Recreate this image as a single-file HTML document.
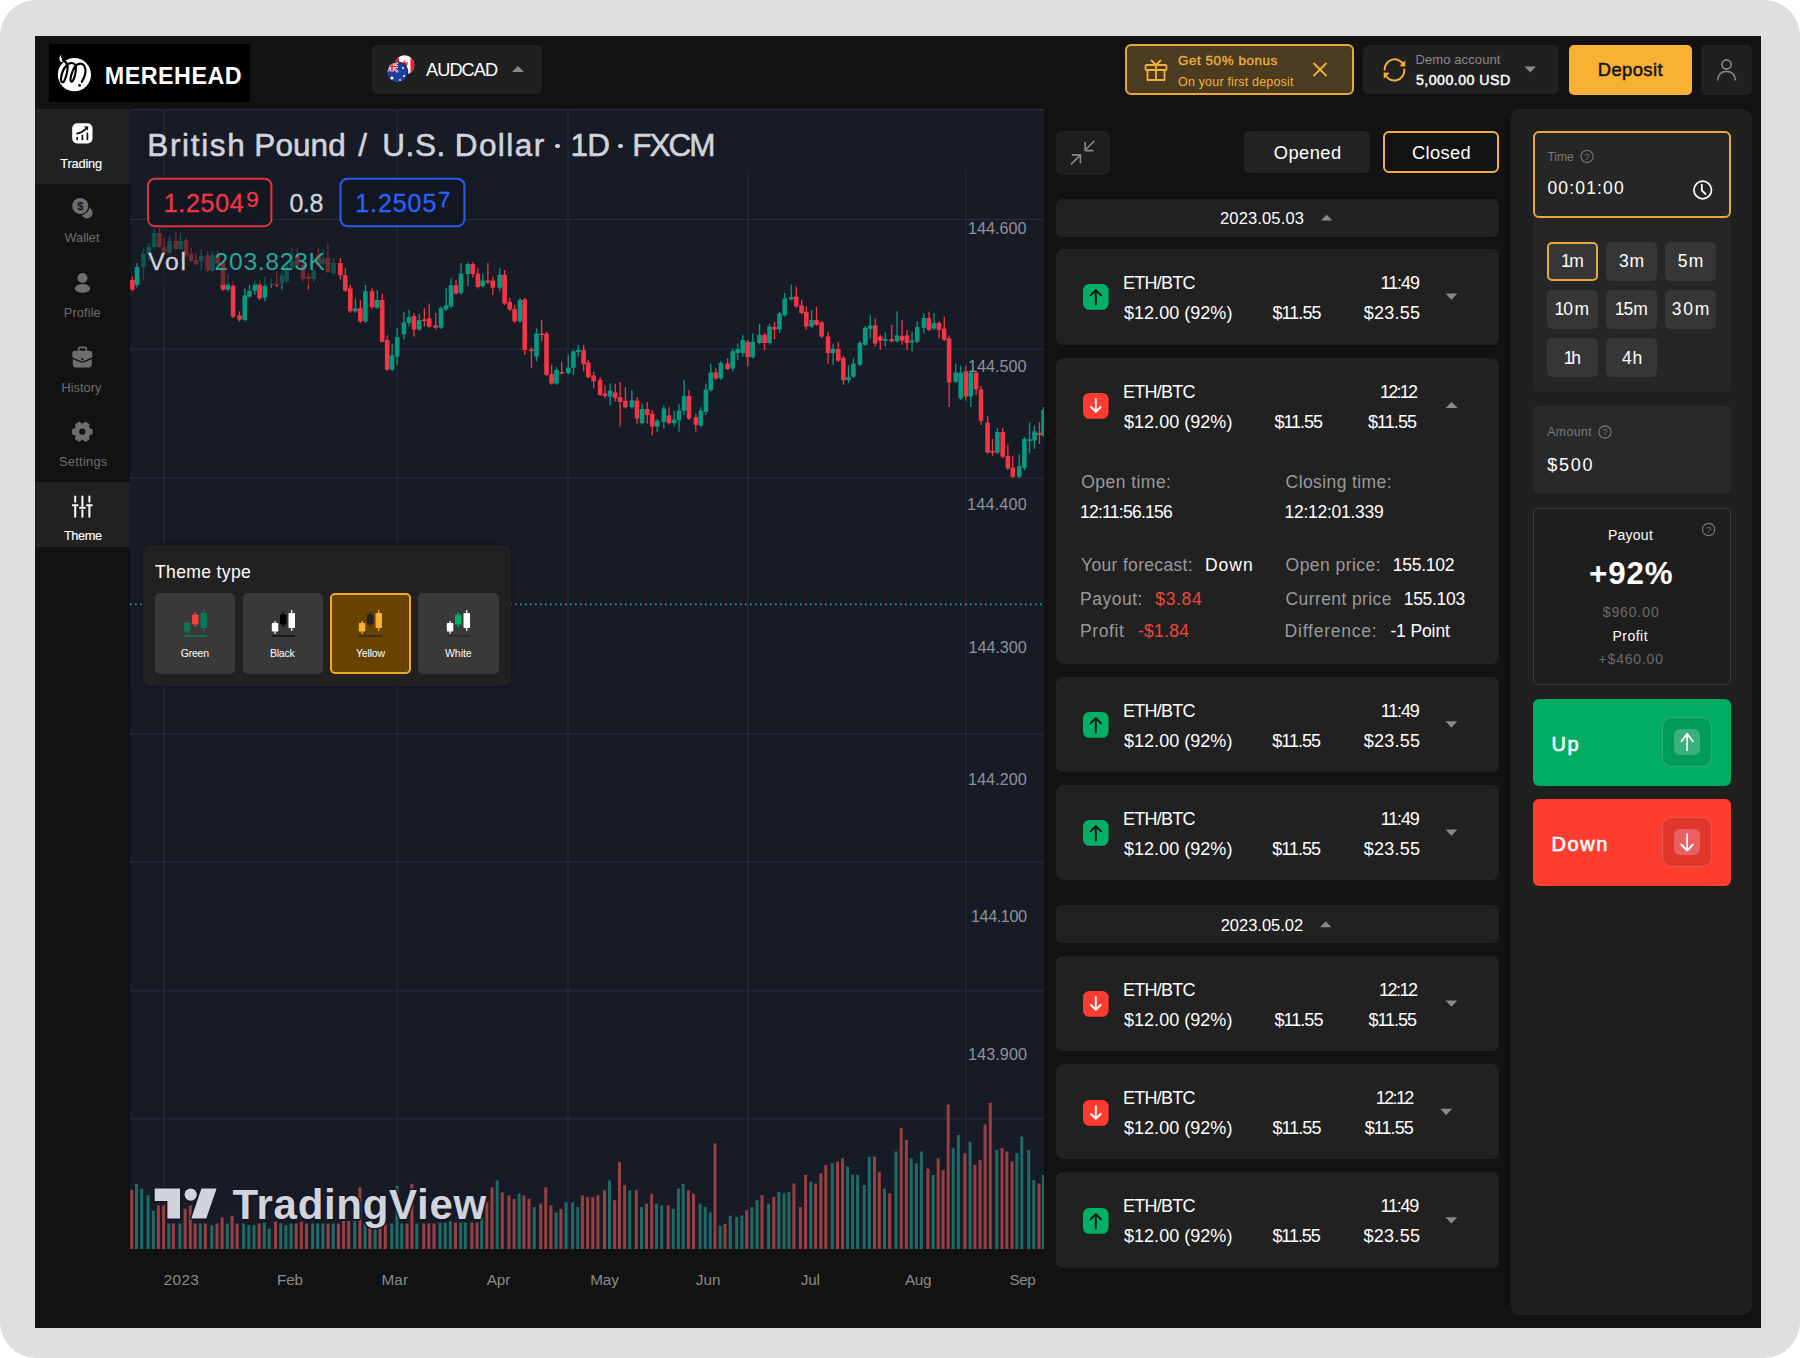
<!DOCTYPE html>
<html><head><meta charset="utf-8"><title>Merehead Trading</title>
<style>
html,body{margin:0;padding:0;}
body{width:1800px;height:1358px;position:relative;overflow:hidden;background:#fff;font-family:"Liberation Sans", Arial, sans-serif;}
.b{position:absolute;display:block;}
.t{position:absolute;white-space:nowrap;}
</style></head><body>
<div class="b" style="left:0px;top:0px;width:1800px;height:1358px;background:#dfdfdf;border-radius:36px;"></div>
<div class="b" style="left:35px;top:36px;width:1726px;height:1292px;background:#121212;border-radius:0px;"></div>
<div class="b" style="left:49px;top:44px;width:201px;height:58px;background:#000;border-radius:0px;"></div>
<svg class="b" style="left:52px;top:52px;" width="44" height="44" viewBox="52 52 44 44"><circle cx="74.4" cy="74.7" r="16.6" fill="#fff"/><path d="M 61.24 54.43 C 58.97 56.86 58.48 60.43 61.72 62.37 L 66.26 60.10 C 64.31 60.49 60.10 59.45 61.24 54.43 Z" fill="#fff"/><path d="M 62.69 60.10 C 65.93 61.72 68.20 64.31 67.55 68.85 C 66.91 74.03 65.61 78.57 63.67 81.81 C 61.72 83.11 60.43 81.16 61.07 77.92 C 61.72 73.06 64.31 67.55 67.23 64.64 C 69.50 62.69 72.74 62.37 74.68 64.31 C 76.63 66.58 75.98 71.44 74.68 76.30 C 73.71 80.19 72.09 82.46 71.12 81.49 C 70.15 80.52 70.47 77.28 71.77 73.39 C 73.39 68.85 75.33 65.61 77.92 64.31 C 81.16 62.37 84.73 64.31 85.38 68.85 C 86.02 73.06 84.08 77.92 81.81 81.81" fill="none" stroke="#000" stroke-width="2.2" stroke-linecap="round" stroke-linejoin="round"/><circle cx="79.54" cy="85.38" r="1.35" fill="#000"/></svg>
<div class="t" style="left:104.80px;top:64.88px;font-size:23.3px;line-height:23.3px;color:#fff;letter-spacing:0.501px;font-weight:700;">MEREHEAD</div>
<div class="b" style="left:372px;top:44.7px;width:170px;height:49.599999999999994px;background:#202020;border-radius:5px;"></div>
<svg class="b" style="left:385px;top:55px;" width="30" height="30" viewBox="385 55 30 30"><defs><clipPath id="ca"><circle cx="404.5" cy="65" r="9.8"/></clipPath><clipPath id="au"><circle cx="397.5" cy="72.3" r="10"/></clipPath></defs><g clip-path="url(#ca)"><rect x="394" y="54" width="22" height="22" fill="#fff"/><rect x="410.5" y="54" width="5" height="22" fill="#e8202a"/><rect x="394" y="54" width="5" height="22" fill="#e8202a"/><path d="M404.5 60 l1.5 3 2-1 -1 4 h-5 l-1 -4 2 1z" fill="#e8202a"/></g><circle cx="397.5" cy="72.3" r="10.8" fill="#202020"/><g clip-path="url(#au)"><rect x="386" y="61" width="24" height="24" fill="#1f3fa0"/><rect x="386" y="61" width="12" height="11" fill="#1f3fa0"/><path d="M386 62 L398 72 M398 62 L386 72" stroke="#fff" stroke-width="2.2"/><path d="M386 62 L398 72 M398 62 L386 72" stroke="#e8202a" stroke-width="0.9"/><path d="M392 61 V72 M386 66.5 H398" stroke="#fff" stroke-width="3"/><path d="M392 61 V72 M386 66.5 H398" stroke="#e8202a" stroke-width="1.6"/><circle cx="392" cy="78" r="1.6" fill="#fff"/><circle cx="403" cy="68" r="1" fill="#fff"/><circle cx="404" cy="76" r="1.1" fill="#fff"/><circle cx="400" cy="80" r="0.9" fill="#fff"/></g></svg>
<div class="t" style="left:426.00px;top:60.59px;font-size:18.2px;line-height:18.2px;color:#fff;letter-spacing:-0.933px;">AUDCAD</div>
<svg class="b" style="left:510px;top:62px;" width="16" height="12" viewBox="510 62 16 12"><path d="M512 72 L518 66 L524 72 Z" fill="#8a8a8a"/></svg>
<div class="b" style="left:1125px;top:44px;width:229px;height:51px;background:#4b3b20;border-radius:6px;border:2px solid #e9a93a;box-sizing:border-box;"></div>
<svg class="b" style="left:1142px;top:56px;" width="28" height="28" viewBox="1142 56 28 28"><g fill="none" stroke="#f2b13e" stroke-width="1.8" stroke-linejoin="round"><rect x="1145.5" y="65" width="21" height="5" rx="1"/><path d="M1147.5 70 V80 H1164.5 V70"/><path d="M1156 65 V80"/><path d="M1156 65 L1151 60 M1156 65 L1161 60"/></g></svg>
<div class="t" style="left:1178.00px;top:53.66px;font-size:13.4px;line-height:13.4px;color:#f2b13e;letter-spacing:0.574px;-webkit-text-stroke:0.35px #f2b13e;">Get 50% bonus</div>
<div class="t" style="left:1178.00px;top:75.62px;font-size:12.5px;line-height:12.5px;color:#f2b13e;letter-spacing:0.181px;">On your first deposit</div>
<svg class="b" style="left:1310px;top:60px;" width="20" height="20" viewBox="1310 60 20 20"><path d="M1313.5 63 L1326.5 76 M1326.5 63 L1313.5 76" stroke="#f2b13e" stroke-width="1.8"/></svg>
<div class="b" style="left:1363px;top:44.7px;width:196px;height:49.599999999999994px;background:#202020;border-radius:5px;"></div>
<svg class="b" style="left:1380px;top:55px;" width="30" height="30" viewBox="1380 55 30 30"><g fill="none" stroke="#f8b133" stroke-width="2" stroke-linecap="round"><path d="M1384.6 69.6 A10 10 0 0 1 1403.6 65"/><path d="M1404.3 69.4 A10 10 0 0 1 1385 74"/></g><path d="M1405.2 60.3 L1405.3 66.4 L1399.3 66.3 Z" fill="#f8b133"/><path d="M1383.8 78.8 L1383.6 72.6 L1389.7 72.8 Z" fill="#f8b133"/></svg>
<div class="t" style="left:1415.50px;top:52.80px;font-size:13px;line-height:13px;color:#8a8a8a;letter-spacing:0.099px;">Demo account</div>
<div class="t" style="left:1416.00px;top:72.98px;font-size:14.2px;line-height:14.2px;color:#fff;letter-spacing:0.466px;-webkit-text-stroke:0.45px #fff;">5,000.00 USD</div>
<svg class="b" style="left:1520px;top:62px;" width="20" height="14" viewBox="1520 62 20 14"><path d="M1524.5 66.5 L1536 66.5 L1530.25 72.5 Z" fill="#8a8a8a"/></svg>
<div class="b" style="left:1569px;top:44.7px;width:123px;height:50.099999999999994px;background:#f8b133;border-radius:5px;"></div>
<div class="t" style="left:1597.70px;top:60.92px;font-size:18.4px;line-height:18.4px;color:#141414;letter-spacing:0.426px;-webkit-text-stroke:0.5px #141414;">Deposit</div>
<div class="b" style="left:1701px;top:44.5px;width:51px;height:50.3px;background:#202020;border-radius:5px;"></div>
<svg class="b" style="left:1712px;top:55px;" width="30" height="30" viewBox="1712 55 30 30"><g fill="none" stroke="#8a8a8a" stroke-width="1.6"><circle cx="1726.5" cy="64.5" r="4.6"/><path d="M1717.5 80.5 C1718 74 1722 71.5 1726.5 71.5 C1731 71.5 1735 74 1735.5 80.5"/></g></svg>
<div class="b" style="left:35px;top:109px;width:95px;height:75px;background:#212121;border-radius:0px;"></div>
<div class="b" style="left:35px;top:482px;width:95px;height:65px;background:#212121;border-radius:0px;"></div>
<svg class="b" style="left:70px;top:121px;" width="25" height="25" viewBox="70 121 25 25"><rect x="72.2" y="123.3" width="20.3" height="20.2" rx="5" fill="#fff"/><g stroke="#111" stroke-width="1.7" stroke-linecap="round" fill="none"><path d="M77.2 137.6 V139.5 M82.4 135.4 V139.5 M87.4 133.4 V139.5"/><path d="M77 133.6 C80.6 132.8 83.8 131.2 86.2 128.6"/></g><polygon points="84,126.3 88.3,126.4 87.9,130.7" fill="#111"/></svg>
<div class="t" style="left:60.30px;top:157.96px;font-size:12.8px;line-height:12.8px;color:#fff;letter-spacing:-0.183px;-webkit-text-stroke:0.15px #fff;">Trading</div>
<svg class="b" style="left:68px;top:194px;" width="28" height="28" viewBox="68 194 28 28"><circle cx="87" cy="212.9" r="5.6" fill="#6e6e6e"/><circle cx="80.3" cy="206" r="9.2" fill="#121212"/><circle cx="80.3" cy="206" r="8.05" fill="#6e6e6e"/><text x="80.3" y="210" font-family="Liberation Sans" font-weight="700" font-size="11" fill="#121212" text-anchor="middle">$</text></svg>
<div class="t" style="left:64.40px;top:232.16px;font-size:12.8px;line-height:12.8px;color:#6e6e6e;letter-spacing:0.015px;">Wallet</div>
<svg class="b" style="left:70px;top:268px;" width="26" height="26" viewBox="70 268 26 26"><circle cx="82.5" cy="278" r="5" fill="#6e6e6e"/><ellipse cx="82.5" cy="288.4" rx="7.6" ry="4.4" fill="#6e6e6e"/></svg>
<div class="t" style="left:63.80px;top:306.66px;font-size:12.8px;line-height:12.8px;color:#6e6e6e;letter-spacing:0.107px;">Profile</div>
<svg class="b" style="left:70px;top:343px;" width="26" height="26" viewBox="70 343 26 26"><path d="M78.7 351 V349 Q78.7 347.3 80.4 347.3 H84.6 Q86.3 347.3 86.3 349 V351" stroke="#6e6e6e" stroke-width="1.7" fill="none"/><path d="M72.3 353.6 Q72.3 350.8 75.1 350.8 H89.5 Q92.3 350.8 92.3 353.6 V357.3 L86.2 359.9 Q82.3 361.6 78.4 359.9 L72.3 357.3 Z" fill="#6e6e6e"/><path d="M72.8 359.1 L78.2 361.5 Q82.3 363.4 86.4 361.5 L91.8 359.1 V364.6 Q91.8 367.4 89 367.4 H75.6 Q72.8 367.4 72.8 364.6 Z" fill="#6e6e6e"/><circle cx="82.3" cy="359.1" r="2.4" fill="#6e6e6e"/><circle cx="82.3" cy="359.1" r="1.15" fill="#121212"/></svg>
<div class="t" style="left:61.50px;top:381.56px;font-size:12.8px;line-height:12.8px;color:#6e6e6e;letter-spacing:0.014px;">History</div>
<svg class="b" style="left:70px;top:419px;" width="26" height="26" viewBox="70 419 26 26"><polygon points="89.39,428.70 91.96,429.54 91.96,433.86 89.39,434.70 88.44,436.34 89.00,438.99 85.26,441.15 83.25,439.34 81.35,439.34 79.34,441.15 75.60,438.99 76.16,436.34 75.21,434.70 72.64,433.86 72.64,429.54 75.21,428.70 76.16,427.06 75.60,424.41 79.34,422.25 81.35,424.06 83.25,424.06 85.26,422.25 89.00,424.41 88.44,427.06" fill="#6e6e6e" stroke="#6e6e6e" stroke-width="1.2" stroke-linejoin="round"/><circle cx="82.3" cy="431.7" r="3.1" fill="#121212"/></svg>
<div class="t" style="left:59.00px;top:455.86px;font-size:12.8px;line-height:12.8px;color:#6e6e6e;letter-spacing:0.280px;">Settings</div>
<svg class="b" style="left:70px;top:493px;" width="26" height="27" viewBox="70 493 26 27"><g stroke="#fff" stroke-width="2" stroke-linecap="round"><path d="M75.2 496.5 V501.8 M75.2 506 V516.8 M82.4 496.5 V506 M82.4 510.2 V516.8 M89.4 496.5 V501.8 M89.4 506 V516.8"/><path d="M72.8 505.2 H77.6 M80 507.8 H84.8 M87 505.2 H91.8"/></g></svg>
<div class="t" style="left:63.90px;top:530.36px;font-size:12.8px;line-height:12.8px;color:#fff;letter-spacing:-0.403px;-webkit-text-stroke:0.15px #fff;">Theme</div>
<svg class="b" style="left:130px;top:109px;border-top-left-radius:4px;" width="914" height="1140" viewBox="130 109 914 1140"><rect x="130" y="109" width="914" height="1140" fill="#171b26"/><rect x="163.5" y="109" width="1" height="1140" fill="#2a2e3a"/><rect x="396.5" y="109" width="1" height="1140" fill="#2a2e3a"/><rect x="567.5" y="109" width="1" height="1140" fill="#2a2e3a"/><rect x="747.5" y="170" width="1" height="1079" fill="#2a2e3a"/><rect x="965.5" y="170" width="1" height="1079" fill="#2a2e3a"/><rect x="130" y="219.0" width="914" height="1" fill="#2a2e3a"/><rect x="130" y="348.5" width="914" height="1" fill="#2a2e3a"/><rect x="130" y="477.5" width="914" height="1" fill="#2a2e3a"/><rect x="130" y="733.5" width="914" height="1" fill="#2a2e3a"/><rect x="130" y="861.5" width="914" height="1" fill="#2a2e3a"/><rect x="130" y="990.5" width="914" height="1" fill="#2a2e3a"/><rect x="130" y="1118.5" width="914" height="1" fill="#2a2e3a"/><rect x="130" y="109" width="914" height="1.5" fill="#262a36"/><line x1="130" y1="604.4" x2="1044" y2="604.4" stroke="#22ab94" stroke-width="1.6" stroke-dasharray="1.6 3.4"/><rect x="130.2" y="1189.9" width="3" height="59.1" fill="#9a3f42"/><rect x="135.0" y="1183.9" width="3" height="65.1" fill="#1f6c66"/><rect x="140.2" y="1188.5" width="3" height="60.5" fill="#1f6c66"/><rect x="146.6" y="1195.1" width="3" height="53.9" fill="#1f6c66"/><rect x="151.8" y="1210.6" width="3" height="38.4" fill="#1f6c66"/><rect x="156.9" y="1205.4" width="3" height="43.6" fill="#9a3f42"/><rect x="162.1" y="1205.4" width="3" height="43.6" fill="#9a3f42"/><rect x="167.3" y="1223.5" width="3" height="25.5" fill="#1f6c66"/><rect x="171.9" y="1223.5" width="3" height="25.5" fill="#9a3f42"/><rect x="178.4" y="1223.5" width="3" height="25.5" fill="#1f6c66"/><rect x="183.6" y="1208.8" width="3" height="40.2" fill="#9a3f42"/><rect x="188.8" y="1205.4" width="3" height="43.6" fill="#9a3f42"/><rect x="193.6" y="1223.5" width="3" height="25.5" fill="#9a3f42"/><rect x="198.8" y="1223.5" width="3" height="25.5" fill="#1f6c66"/><rect x="203.9" y="1223.5" width="3" height="25.5" fill="#9a3f42"/><rect x="210.3" y="1225.2" width="3" height="23.8" fill="#1f6c66"/><rect x="215.5" y="1223.5" width="3" height="25.5" fill="#9a3f42"/><rect x="220.6" y="1217.5" width="3" height="31.5" fill="#9a3f42"/><rect x="225.8" y="1223.5" width="3" height="25.5" fill="#1f6c66"/><rect x="230.6" y="1215.7" width="3" height="33.3" fill="#9a3f42"/><rect x="235.6" y="1223.5" width="3" height="25.5" fill="#9a3f42"/><rect x="242.2" y="1223.5" width="3" height="25.5" fill="#1f6c66"/><rect x="247.3" y="1225.2" width="3" height="23.8" fill="#1f6c66"/><rect x="252.5" y="1225.2" width="3" height="23.8" fill="#1f6c66"/><rect x="257.7" y="1223.5" width="3" height="25.5" fill="#9a3f42"/><rect x="262.8" y="1222.6" width="3" height="26.4" fill="#1f6c66"/><rect x="267.7" y="1228.6" width="3" height="20.4" fill="#1f6c66"/><rect x="274.0" y="1221.8" width="3" height="27.2" fill="#9a3f42"/><rect x="279.2" y="1223.5" width="3" height="25.5" fill="#1f6c66"/><rect x="284.4" y="1225.2" width="3" height="23.8" fill="#1f6c66"/><rect x="289.5" y="1223.5" width="3" height="25.5" fill="#1f6c66"/><rect x="294.7" y="1223.5" width="3" height="25.5" fill="#9a3f42"/><rect x="299.9" y="1221.8" width="3" height="27.2" fill="#9a3f42"/><rect x="305.0" y="1223.5" width="3" height="25.5" fill="#9a3f42"/><rect x="311.1" y="1223.5" width="3" height="25.5" fill="#1f6c66"/><rect x="316.2" y="1223.5" width="3" height="25.5" fill="#1f6c66"/><rect x="321.4" y="1223.5" width="3" height="25.5" fill="#1f6c66"/><rect x="326.6" y="1223.5" width="3" height="25.5" fill="#9a3f42"/><rect x="331.7" y="1223.5" width="3" height="25.5" fill="#1f6c66"/><rect x="336.9" y="1223.5" width="3" height="25.5" fill="#9a3f42"/><rect x="342.1" y="1220.9" width="3" height="28.1" fill="#9a3f42"/><rect x="347.2" y="1220.9" width="3" height="28.1" fill="#9a3f42"/><rect x="353.3" y="1220.9" width="3" height="28.1" fill="#1f6c66"/><rect x="358.4" y="1187.3" width="3" height="61.7" fill="#9a3f42"/><rect x="363.6" y="1223.5" width="3" height="25.5" fill="#1f6c66"/><rect x="368.4" y="1223.5" width="3" height="25.5" fill="#9a3f42"/><rect x="373.6" y="1223.5" width="3" height="25.5" fill="#1f6c66"/><rect x="378.6" y="1223.5" width="3" height="25.5" fill="#9a3f42"/><rect x="383.8" y="1223.5" width="3" height="25.5" fill="#9a3f42"/><rect x="390.3" y="1223.5" width="3" height="25.5" fill="#1f6c66"/><rect x="395.5" y="1185.6" width="3" height="63.4" fill="#1f6c66"/><rect x="400.3" y="1223.5" width="3" height="25.5" fill="#1f6c66"/><rect x="405.5" y="1223.5" width="3" height="25.5" fill="#9a3f42"/><rect x="410.4" y="1183.9" width="3" height="65.1" fill="#9a3f42"/><rect x="415.3" y="1223.5" width="3" height="25.5" fill="#1f6c66"/><rect x="422.2" y="1223.5" width="3" height="25.5" fill="#9a3f42"/><rect x="427.3" y="1223.5" width="3" height="25.5" fill="#9a3f42"/><rect x="432.5" y="1223.5" width="3" height="25.5" fill="#9a3f42"/><rect x="438.5" y="1222.6" width="3" height="26.4" fill="#1f6c66"/><rect x="443.7" y="1222.6" width="3" height="26.4" fill="#1f6c66"/><rect x="448.8" y="1220.9" width="3" height="28.1" fill="#1f6c66"/><rect x="454.0" y="1222.6" width="3" height="26.4" fill="#9a3f42"/><rect x="459.2" y="1222.6" width="3" height="26.4" fill="#1f6c66"/><rect x="463.8" y="1222.6" width="3" height="26.4" fill="#1f6c66"/><rect x="470.4" y="1222.6" width="3" height="26.4" fill="#9a3f42"/><rect x="475.5" y="1222.6" width="3" height="26.4" fill="#9a3f42"/><rect x="480.2" y="1217.5" width="3" height="31.5" fill="#1f6c66"/><rect x="485.3" y="1202.0" width="3" height="47.0" fill="#9a3f42"/><rect x="490.5" y="1187.3" width="3" height="61.7" fill="#9a3f42"/><rect x="495.7" y="1180.4" width="3" height="68.6" fill="#1f6c66"/><rect x="500.8" y="1192.5" width="3" height="56.5" fill="#9a3f42"/><rect x="507.4" y="1195.4" width="3" height="53.6" fill="#9a3f42"/><rect x="512.6" y="1198.9" width="3" height="50.1" fill="#9a3f42"/><rect x="517.7" y="1193.7" width="3" height="55.3" fill="#1f6c66"/><rect x="522.4" y="1195.4" width="3" height="53.6" fill="#9a3f42"/><rect x="527.5" y="1198.9" width="3" height="50.1" fill="#9a3f42"/><rect x="532.7" y="1207.1" width="3" height="41.9" fill="#1f6c66"/><rect x="539.2" y="1203.7" width="3" height="45.3" fill="#9a3f42"/><rect x="544.2" y="1187.3" width="3" height="61.7" fill="#9a3f42"/><rect x="549.4" y="1205.4" width="3" height="43.6" fill="#9a3f42"/><rect x="554.6" y="1212.3" width="3" height="36.7" fill="#1f6c66"/><rect x="559.4" y="1208.8" width="3" height="40.2" fill="#9a3f42"/><rect x="564.6" y="1202.3" width="3" height="46.7" fill="#1f6c66"/><rect x="571.1" y="1202.3" width="3" height="46.7" fill="#1f6c66"/><rect x="576.3" y="1207.1" width="3" height="41.9" fill="#1f6c66"/><rect x="580.9" y="1195.4" width="3" height="53.6" fill="#9a3f42"/><rect x="586.1" y="1197.1" width="3" height="51.9" fill="#9a3f42"/><rect x="591.3" y="1197.1" width="3" height="51.9" fill="#9a3f42"/><rect x="596.4" y="1195.4" width="3" height="53.6" fill="#9a3f42"/><rect x="603.0" y="1190.2" width="3" height="58.8" fill="#9a3f42"/><rect x="608.0" y="1180.4" width="3" height="68.6" fill="#1f6c66"/><rect x="613.1" y="1200.2" width="3" height="48.8" fill="#9a3f42"/><rect x="618.0" y="1162.0" width="3" height="87.0" fill="#9a3f42"/><rect x="623.1" y="1185.2" width="3" height="63.8" fill="#9a3f42"/><rect x="628.3" y="1190.2" width="3" height="58.8" fill="#1f6c66"/><rect x="634.8" y="1190.2" width="3" height="58.8" fill="#9a3f42"/><rect x="640.0" y="1207.1" width="3" height="41.9" fill="#1f6c66"/><rect x="645.0" y="1203.7" width="3" height="45.3" fill="#9a3f42"/><rect x="650.2" y="1193.7" width="3" height="55.3" fill="#9a3f42"/><rect x="655.0" y="1203.7" width="3" height="45.3" fill="#1f6c66"/><rect x="660.2" y="1205.4" width="3" height="43.6" fill="#1f6c66"/><rect x="666.7" y="1205.4" width="3" height="43.6" fill="#9a3f42"/><rect x="671.7" y="1208.8" width="3" height="40.2" fill="#1f6c66"/><rect x="676.9" y="1188.5" width="3" height="60.5" fill="#1f6c66"/><rect x="681.7" y="1183.9" width="3" height="65.1" fill="#1f6c66"/><rect x="686.9" y="1190.2" width="3" height="58.8" fill="#9a3f42"/><rect x="692.0" y="1193.7" width="3" height="55.3" fill="#9a3f42"/><rect x="698.6" y="1203.7" width="3" height="45.3" fill="#1f6c66"/><rect x="703.7" y="1207.1" width="3" height="41.9" fill="#1f6c66"/><rect x="708.7" y="1212.3" width="3" height="36.7" fill="#1f6c66"/><rect x="713.5" y="1143.4" width="3" height="105.6" fill="#9a3f42"/><rect x="718.7" y="1225.7" width="3" height="23.3" fill="#1f6c66"/><rect x="723.5" y="1224.0" width="3" height="25.0" fill="#9a3f42"/><rect x="728.7" y="1215.7" width="3" height="33.3" fill="#1f6c66"/><rect x="735.2" y="1217.1" width="3" height="31.9" fill="#1f6c66"/><rect x="740.4" y="1215.4" width="3" height="33.6" fill="#1f6c66"/><rect x="745.2" y="1210.2" width="3" height="38.8" fill="#9a3f42"/><rect x="750.4" y="1207.1" width="3" height="41.9" fill="#1f6c66"/><rect x="755.5" y="1200.2" width="3" height="48.8" fill="#1f6c66"/><rect x="760.5" y="1195.1" width="3" height="53.9" fill="#9a3f42"/><rect x="767.1" y="1203.7" width="3" height="45.3" fill="#1f6c66"/><rect x="772.3" y="1196.8" width="3" height="52.2" fill="#9a3f42"/><rect x="777.4" y="1192.0" width="3" height="57.0" fill="#1f6c66"/><rect x="782.6" y="1193.3" width="3" height="55.7" fill="#1f6c66"/><rect x="787.4" y="1192.0" width="3" height="57.0" fill="#1f6c66"/><rect x="792.4" y="1183.5" width="3" height="65.5" fill="#9a3f42"/><rect x="798.9" y="1207.1" width="3" height="41.9" fill="#9a3f42"/><rect x="804.1" y="1174.9" width="3" height="74.1" fill="#9a3f42"/><rect x="809.3" y="1181.8" width="3" height="67.2" fill="#1f6c66"/><rect x="814.1" y="1183.5" width="3" height="65.5" fill="#9a3f42"/><rect x="819.3" y="1173.5" width="3" height="75.5" fill="#9a3f42"/><rect x="824.3" y="1164.9" width="3" height="84.1" fill="#9a3f42"/><rect x="830.8" y="1163.2" width="3" height="85.8" fill="#1f6c66"/><rect x="836.0" y="1161.5" width="3" height="87.5" fill="#9a3f42"/><rect x="841.1" y="1158.4" width="3" height="90.6" fill="#9a3f42"/><rect x="846.0" y="1166.6" width="3" height="82.4" fill="#1f6c66"/><rect x="851.1" y="1174.9" width="3" height="74.1" fill="#1f6c66"/><rect x="856.1" y="1174.9" width="3" height="74.1" fill="#1f6c66"/><rect x="862.7" y="1185.1" width="3" height="63.9" fill="#1f6c66"/><rect x="867.8" y="1156.7" width="3" height="92.3" fill="#1f6c66"/><rect x="873.0" y="1156.7" width="3" height="92.3" fill="#9a3f42"/><rect x="877.8" y="1171.8" width="3" height="77.2" fill="#9a3f42"/><rect x="883.0" y="1188.5" width="3" height="60.5" fill="#1f6c66"/><rect x="888.2" y="1193.3" width="3" height="55.7" fill="#9a3f42"/><rect x="894.5" y="1151.5" width="3" height="97.5" fill="#1f6c66"/><rect x="899.7" y="1127.9" width="3" height="121.1" fill="#9a3f42"/><rect x="904.9" y="1139.9" width="3" height="109.1" fill="#9a3f42"/><rect x="909.7" y="1158.4" width="3" height="90.6" fill="#1f6c66"/><rect x="914.9" y="1163.2" width="3" height="85.8" fill="#1f6c66"/><rect x="919.9" y="1151.5" width="3" height="97.5" fill="#1f6c66"/><rect x="926.4" y="1168.4" width="3" height="80.6" fill="#9a3f42"/><rect x="931.6" y="1174.9" width="3" height="74.1" fill="#1f6c66"/><rect x="936.7" y="1158.4" width="3" height="90.6" fill="#9a3f42"/><rect x="941.6" y="1170.1" width="3" height="78.9" fill="#9a3f42"/><rect x="946.7" y="1104.6" width="3" height="144.4" fill="#9a3f42"/><rect x="951.7" y="1148.2" width="3" height="100.8" fill="#1f6c66"/><rect x="956.9" y="1135.1" width="3" height="113.9" fill="#1f6c66"/><rect x="963.4" y="1153.2" width="3" height="95.8" fill="#9a3f42"/><rect x="968.6" y="1141.7" width="3" height="107.3" fill="#1f6c66"/><rect x="973.4" y="1164.9" width="3" height="84.1" fill="#9a3f42"/><rect x="978.6" y="1159.8" width="3" height="89.2" fill="#9a3f42"/><rect x="983.6" y="1124.4" width="3" height="124.6" fill="#9a3f42"/><rect x="988.8" y="1102.9" width="3" height="146.1" fill="#9a3f42"/><rect x="995.3" y="1149.9" width="3" height="99.1" fill="#1f6c66"/><rect x="1000.5" y="1148.2" width="3" height="100.8" fill="#9a3f42"/><rect x="1005.3" y="1151.5" width="3" height="97.5" fill="#9a3f42"/><rect x="1010.5" y="1161.5" width="3" height="87.5" fill="#9a3f42"/><rect x="1015.4" y="1153.2" width="3" height="95.8" fill="#1f6c66"/><rect x="1020.3" y="1136.5" width="3" height="112.5" fill="#1f6c66"/><rect x="1027.2" y="1149.9" width="3" height="99.1" fill="#1f6c66"/><rect x="1032.3" y="1180.1" width="3" height="68.9" fill="#1f6c66"/><rect x="1037.5" y="1183.5" width="3" height="65.5" fill="#9a3f42"/><rect x="1041.8" y="1174.9" width="3" height="74.1" fill="#1f6c66"/><g stroke="#131722" stroke-width="3" stroke-linejoin="round" paint-order="stroke" fill="#d1d4dc"><path d="M154.7 1188.5 H180 V1218.6 H167.4 V1201 H154.7 Z"/><circle cx="190.7" cy="1194.6" r="6.1"/><path d="M201.4 1188.5 H216.6 L206.3 1218.6 H191.3 Z"/><text x="232.5" y="1218.6" font-family="Liberation Sans" font-weight="700" font-size="42" letter-spacing="0.7">TradingView</text></g></svg>
<div class="t" style="left:968.00px;top:220.39px;font-size:16.2px;line-height:16.2px;color:#8f9299;letter-spacing:-0.002px;">144.600</div>
<div class="t" style="left:968.00px;top:358.19px;font-size:16.2px;line-height:16.2px;color:#8f9299;letter-spacing:-0.002px;">144.500</div>
<div class="t" style="left:967.00px;top:495.69px;font-size:16.2px;line-height:16.2px;color:#8f9299;letter-spacing:0.215px;">144.400</div>
<div class="t" style="left:968.50px;top:639.29px;font-size:16.2px;line-height:16.2px;color:#8f9299;letter-spacing:-0.035px;">144.300</div>
<div class="t" style="left:968.00px;top:770.69px;font-size:16.2px;line-height:16.2px;color:#8f9299;letter-spacing:0.048px;">144.200</div>
<div class="t" style="left:971.00px;top:908.09px;font-size:16.2px;line-height:16.2px;color:#8f9299;letter-spacing:-0.418px;">144.100</div>
<div class="t" style="left:968.00px;top:1045.69px;font-size:16.2px;line-height:16.2px;color:#8f9299;letter-spacing:0.082px;">143.900</div>
<svg class="b" style="left:130px;top:109px;" width="914" height="1140" viewBox="130 109 914 1140"><rect x="131.8" y="276.5" width="1.3" height="14.8" fill="#f23645"/><rect x="130.1" y="280.0" width="4.6" height="9.5" fill="#f23645"/><rect x="136.4" y="263.0" width="1.3" height="24.7" fill="#089981"/><rect x="134.8" y="267.0" width="4.6" height="17.8" fill="#089981"/><rect x="142.8" y="248.3" width="1.3" height="31.2" fill="#089981"/><rect x="141.2" y="254.0" width="4.6" height="13.0" fill="#089981"/><rect x="148.2" y="243.0" width="1.3" height="18.2" fill="#089981"/><rect x="146.5" y="247.0" width="4.6" height="7.0" fill="#089981"/><rect x="153.4" y="228.2" width="1.3" height="20.8" fill="#089981"/><rect x="151.8" y="233.0" width="4.6" height="14.0" fill="#089981"/><rect x="158.8" y="228.2" width="1.3" height="19.5" fill="#f23645"/><rect x="157.1" y="233.0" width="4.6" height="14.0" fill="#f23645"/><rect x="163.5" y="237.7" width="1.3" height="16.3" fill="#f23645"/><rect x="161.9" y="247.0" width="4.6" height="5.4" fill="#f23645"/><rect x="168.8" y="236.0" width="1.3" height="18.0" fill="#089981"/><rect x="167.2" y="241.0" width="4.6" height="11.4" fill="#089981"/><rect x="175.3" y="231.2" width="1.3" height="18.8" fill="#f23645"/><rect x="173.7" y="241.0" width="4.6" height="7.9" fill="#f23645"/><rect x="179.9" y="233.0" width="1.3" height="17.0" fill="#089981"/><rect x="178.3" y="241.0" width="4.6" height="8.0" fill="#089981"/><rect x="185.3" y="237.7" width="1.3" height="19.3" fill="#f23645"/><rect x="183.7" y="240.0" width="4.6" height="15.3" fill="#f23645"/><rect x="190.5" y="247.7" width="1.3" height="14.3" fill="#f23645"/><rect x="188.9" y="254.0" width="4.6" height="6.6" fill="#f23645"/><rect x="195.3" y="253.0" width="1.3" height="12.0" fill="#f23645"/><rect x="193.7" y="260.0" width="4.6" height="4.2" fill="#f23645"/><rect x="200.7" y="249.4" width="1.3" height="21.2" fill="#089981"/><rect x="199.0" y="256.5" width="4.6" height="4.7" fill="#089981"/><rect x="207.0" y="251.2" width="1.3" height="21.2" fill="#f23645"/><rect x="205.4" y="255.3" width="4.6" height="15.3" fill="#f23645"/><rect x="211.8" y="251.2" width="1.3" height="21.2" fill="#089981"/><rect x="210.1" y="255.3" width="4.6" height="15.3" fill="#089981"/><rect x="217.0" y="251.2" width="1.3" height="13.8" fill="#f23645"/><rect x="215.4" y="255.3" width="4.6" height="8.3" fill="#f23645"/><rect x="222.3" y="260.0" width="1.3" height="31.0" fill="#f23645"/><rect x="220.7" y="262.4" width="4.6" height="27.1" fill="#f23645"/><rect x="227.2" y="274.2" width="1.3" height="17.1" fill="#089981"/><rect x="225.5" y="283.6" width="4.6" height="5.9" fill="#089981"/><rect x="232.4" y="281.2" width="1.3" height="36.8" fill="#f23645"/><rect x="230.8" y="286.0" width="4.6" height="30.6" fill="#f23645"/><rect x="238.8" y="311.3" width="1.3" height="10.0" fill="#f23645"/><rect x="237.2" y="315.4" width="4.6" height="4.1" fill="#f23645"/><rect x="244.2" y="288.3" width="1.3" height="33.2" fill="#089981"/><rect x="242.5" y="295.4" width="4.6" height="24.6" fill="#089981"/><rect x="248.8" y="284.8" width="1.3" height="12.9" fill="#089981"/><rect x="247.2" y="290.7" width="4.6" height="5.9" fill="#089981"/><rect x="254.2" y="280.1" width="1.3" height="14.7" fill="#089981"/><rect x="252.6" y="283.6" width="4.6" height="7.1" fill="#089981"/><rect x="259.0" y="280.1" width="1.3" height="19.9" fill="#f23645"/><rect x="257.3" y="283.6" width="4.6" height="14.7" fill="#f23645"/><rect x="264.2" y="276.5" width="1.3" height="24.8" fill="#089981"/><rect x="262.6" y="286.0" width="4.6" height="11.7" fill="#089981"/><rect x="270.7" y="278.9" width="1.3" height="8.8" fill="#089981"/><rect x="269.0" y="283.6" width="4.6" height="1.5" fill="#089981"/><rect x="276.0" y="271.8" width="1.3" height="15.2" fill="#f23645"/><rect x="274.3" y="283.6" width="4.6" height="1.8" fill="#f23645"/><rect x="281.2" y="270.6" width="1.3" height="18.9" fill="#089981"/><rect x="279.6" y="275.4" width="4.6" height="8.2" fill="#089981"/><rect x="286.1" y="261.2" width="1.3" height="21.8" fill="#089981"/><rect x="284.4" y="267.0" width="4.6" height="14.2" fill="#089981"/><rect x="291.4" y="248.3" width="1.3" height="20.7" fill="#089981"/><rect x="289.7" y="261.2" width="4.6" height="5.8" fill="#089981"/><rect x="296.7" y="248.3" width="1.3" height="17.7" fill="#f23645"/><rect x="295.0" y="255.3" width="4.6" height="9.5" fill="#f23645"/><rect x="302.5" y="262.0" width="1.3" height="19.0" fill="#f23645"/><rect x="300.8" y="264.8" width="4.6" height="14.1" fill="#f23645"/><rect x="307.8" y="273.0" width="1.3" height="16.5" fill="#f23645"/><rect x="306.1" y="276.5" width="4.6" height="2.4" fill="#f23645"/><rect x="313.1" y="268.3" width="1.3" height="14.1" fill="#089981"/><rect x="311.4" y="270.6" width="4.6" height="8.3" fill="#089981"/><rect x="317.9" y="247.7" width="1.3" height="18.3" fill="#f23645"/><rect x="316.2" y="255.3" width="4.6" height="9.5" fill="#f23645"/><rect x="322.6" y="249.4" width="1.3" height="15.6" fill="#089981"/><rect x="320.9" y="258.9" width="4.6" height="4.7" fill="#089981"/><rect x="327.2" y="243.0" width="1.3" height="30.0" fill="#f23645"/><rect x="325.6" y="257.7" width="4.6" height="14.1" fill="#f23645"/><rect x="332.9" y="258.0" width="1.3" height="17.0" fill="#089981"/><rect x="331.2" y="263.0" width="4.6" height="10.0" fill="#089981"/><rect x="339.7" y="258.0" width="1.3" height="21.5" fill="#f23645"/><rect x="338.0" y="263.0" width="4.6" height="12.3" fill="#f23645"/><rect x="344.7" y="268.3" width="1.3" height="23.7" fill="#f23645"/><rect x="343.0" y="275.3" width="4.6" height="15.3" fill="#f23645"/><rect x="349.7" y="284.8" width="1.3" height="28.2" fill="#f23645"/><rect x="348.0" y="288.3" width="4.6" height="23.0" fill="#f23645"/><rect x="354.8" y="298.3" width="1.3" height="14.7" fill="#089981"/><rect x="353.1" y="308.3" width="4.6" height="3.0" fill="#089981"/><rect x="359.7" y="300.0" width="1.3" height="23.0" fill="#f23645"/><rect x="358.0" y="308.3" width="4.6" height="13.0" fill="#f23645"/><rect x="364.8" y="284.8" width="1.3" height="38.2" fill="#089981"/><rect x="363.1" y="291.2" width="4.6" height="30.1" fill="#089981"/><rect x="371.5" y="288.3" width="1.3" height="20.7" fill="#f23645"/><rect x="369.8" y="291.2" width="4.6" height="15.9" fill="#f23645"/><rect x="376.6" y="290.0" width="1.3" height="19.0" fill="#089981"/><rect x="374.9" y="300.0" width="4.6" height="7.7" fill="#089981"/><rect x="381.6" y="293.6" width="1.3" height="48.9" fill="#f23645"/><rect x="379.9" y="300.0" width="4.6" height="41.9" fill="#f23645"/><rect x="386.6" y="335.4" width="1.3" height="35.6" fill="#f23645"/><rect x="384.9" y="340.0" width="4.6" height="29.6" fill="#f23645"/><rect x="391.5" y="343.6" width="1.3" height="27.4" fill="#089981"/><rect x="389.8" y="355.4" width="4.6" height="14.2" fill="#089981"/><rect x="396.6" y="328.3" width="1.3" height="36.6" fill="#089981"/><rect x="394.9" y="337.2" width="4.6" height="19.4" fill="#089981"/><rect x="403.2" y="311.8" width="1.3" height="27.7" fill="#089981"/><rect x="401.6" y="322.4" width="4.6" height="11.8" fill="#089981"/><rect x="408.4" y="310.0" width="1.3" height="16.6" fill="#089981"/><rect x="406.7" y="317.1" width="4.6" height="5.9" fill="#089981"/><rect x="413.4" y="313.0" width="1.3" height="23.6" fill="#f23645"/><rect x="411.7" y="316.0" width="4.6" height="13.5" fill="#f23645"/><rect x="418.6" y="313.6" width="1.3" height="17.4" fill="#089981"/><rect x="416.9" y="320.0" width="4.6" height="9.5" fill="#089981"/><rect x="423.7" y="308.3" width="1.3" height="18.3" fill="#f23645"/><rect x="422.0" y="319.5" width="4.6" height="1.5" fill="#f23645"/><rect x="428.6" y="303.6" width="1.3" height="24.4" fill="#f23645"/><rect x="426.9" y="318.3" width="4.6" height="8.3" fill="#f23645"/><rect x="435.1" y="313.0" width="1.3" height="16.5" fill="#f23645"/><rect x="433.4" y="325.4" width="4.6" height="2.3" fill="#f23645"/><rect x="440.4" y="306.5" width="1.3" height="22.5" fill="#089981"/><rect x="438.7" y="308.3" width="4.6" height="19.4" fill="#089981"/><rect x="445.5" y="288.3" width="1.3" height="22.7" fill="#089981"/><rect x="443.8" y="305.4" width="4.6" height="4.1" fill="#089981"/><rect x="450.4" y="278.3" width="1.3" height="29.7" fill="#089981"/><rect x="448.7" y="285.3" width="4.6" height="21.2" fill="#089981"/><rect x="455.4" y="280.0" width="1.3" height="14.8" fill="#f23645"/><rect x="453.7" y="285.3" width="4.6" height="8.3" fill="#f23645"/><rect x="460.4" y="263.0" width="1.3" height="31.5" fill="#089981"/><rect x="458.7" y="273.6" width="4.6" height="19.4" fill="#089981"/><rect x="467.2" y="262.5" width="1.3" height="23.5" fill="#089981"/><rect x="465.5" y="264.1" width="4.6" height="10.1" fill="#089981"/><rect x="472.2" y="262.5" width="1.3" height="15.2" fill="#f23645"/><rect x="470.5" y="264.0" width="4.6" height="10.0" fill="#f23645"/><rect x="477.2" y="268.3" width="1.3" height="20.2" fill="#f23645"/><rect x="475.6" y="273.6" width="4.6" height="13.4" fill="#f23645"/><rect x="482.2" y="273.6" width="1.3" height="13.9" fill="#089981"/><rect x="480.5" y="280.6" width="4.6" height="5.4" fill="#089981"/><rect x="487.2" y="263.0" width="1.3" height="21.0" fill="#f23645"/><rect x="485.6" y="280.6" width="4.6" height="1.8" fill="#f23645"/><rect x="492.2" y="276.5" width="1.3" height="18.3" fill="#f23645"/><rect x="490.5" y="280.6" width="4.6" height="7.1" fill="#f23645"/><rect x="499.1" y="268.3" width="1.3" height="22.9" fill="#089981"/><rect x="497.4" y="274.7" width="4.6" height="13.0" fill="#089981"/><rect x="504.0" y="270.0" width="1.3" height="35.0" fill="#f23645"/><rect x="502.3" y="274.7" width="4.6" height="28.9" fill="#f23645"/><rect x="509.1" y="298.0" width="1.3" height="13.0" fill="#f23645"/><rect x="507.4" y="301.8" width="4.6" height="7.7" fill="#f23645"/><rect x="514.0" y="304.8" width="1.3" height="18.2" fill="#f23645"/><rect x="512.3" y="309.0" width="4.6" height="12.3" fill="#f23645"/><rect x="519.4" y="298.0" width="1.3" height="25.0" fill="#089981"/><rect x="517.7" y="300.0" width="4.6" height="21.3" fill="#089981"/><rect x="524.1" y="298.0" width="1.3" height="56.8" fill="#f23645"/><rect x="522.4" y="299.4" width="4.6" height="50.6" fill="#f23645"/><rect x="530.8" y="347.0" width="1.3" height="21.0" fill="#f23645"/><rect x="529.1" y="349.5" width="4.6" height="1.5" fill="#f23645"/><rect x="535.9" y="328.3" width="1.3" height="33.0" fill="#089981"/><rect x="534.2" y="333.6" width="4.6" height="23.0" fill="#089981"/><rect x="541.0" y="320.0" width="1.3" height="21.2" fill="#f23645"/><rect x="539.3" y="333.5" width="4.6" height="1.5" fill="#f23645"/><rect x="545.9" y="331.8" width="1.3" height="44.2" fill="#f23645"/><rect x="544.2" y="333.6" width="4.6" height="41.2" fill="#f23645"/><rect x="551.0" y="364.8" width="1.3" height="20.0" fill="#f23645"/><rect x="549.3" y="374.2" width="4.6" height="9.4" fill="#f23645"/><rect x="555.9" y="367.2" width="1.3" height="17.6" fill="#089981"/><rect x="554.2" y="370.0" width="4.6" height="13.6" fill="#089981"/><rect x="561.0" y="361.9" width="1.3" height="12.1" fill="#f23645"/><rect x="559.3" y="372.0" width="4.6" height="1.5" fill="#f23645"/><rect x="567.6" y="354.8" width="1.3" height="19.7" fill="#089981"/><rect x="566.0" y="367.7" width="4.6" height="5.3" fill="#089981"/><rect x="572.8" y="350.0" width="1.3" height="24.8" fill="#089981"/><rect x="571.1" y="351.3" width="4.6" height="16.4" fill="#089981"/><rect x="577.6" y="344.8" width="1.3" height="11.8" fill="#089981"/><rect x="576.0" y="350.0" width="4.6" height="2.0" fill="#089981"/><rect x="583.0" y="344.8" width="1.3" height="26.5" fill="#f23645"/><rect x="581.3" y="350.0" width="4.6" height="14.2" fill="#f23645"/><rect x="587.6" y="360.0" width="1.3" height="18.4" fill="#f23645"/><rect x="586.0" y="362.5" width="4.6" height="14.7" fill="#f23645"/><rect x="593.0" y="371.9" width="1.3" height="16.5" fill="#f23645"/><rect x="591.3" y="375.4" width="4.6" height="5.9" fill="#f23645"/><rect x="599.5" y="377.2" width="1.3" height="18.8" fill="#f23645"/><rect x="597.8" y="380.1" width="4.6" height="14.7" fill="#f23645"/><rect x="604.4" y="385.4" width="1.3" height="13.0" fill="#f23645"/><rect x="602.7" y="393.7" width="4.6" height="2.3" fill="#f23645"/><rect x="609.5" y="383.6" width="1.3" height="21.8" fill="#089981"/><rect x="607.8" y="390.7" width="4.6" height="5.9" fill="#089981"/><rect x="614.6" y="383.6" width="1.3" height="17.7" fill="#f23645"/><rect x="612.9" y="392.5" width="4.6" height="5.3" fill="#f23645"/><rect x="619.5" y="381.9" width="1.3" height="44.7" fill="#f23645"/><rect x="617.8" y="397.2" width="4.6" height="4.7" fill="#f23645"/><rect x="624.8" y="387.2" width="1.3" height="21.2" fill="#f23645"/><rect x="623.1" y="400.7" width="4.6" height="6.5" fill="#f23645"/><rect x="631.2" y="390.1" width="1.3" height="18.9" fill="#089981"/><rect x="629.6" y="400.1" width="4.6" height="7.1" fill="#089981"/><rect x="636.4" y="397.2" width="1.3" height="26.5" fill="#f23645"/><rect x="634.7" y="400.7" width="4.6" height="17.7" fill="#f23645"/><rect x="641.5" y="403.7" width="1.3" height="20.8" fill="#089981"/><rect x="639.8" y="409.0" width="4.6" height="14.1" fill="#089981"/><rect x="646.6" y="401.9" width="1.3" height="21.8" fill="#f23645"/><rect x="644.9" y="409.0" width="4.6" height="5.9" fill="#f23645"/><rect x="651.6" y="410.1" width="1.3" height="25.4" fill="#f23645"/><rect x="649.9" y="413.7" width="4.6" height="12.9" fill="#f23645"/><rect x="656.6" y="419.0" width="1.3" height="12.9" fill="#089981"/><rect x="654.9" y="420.8" width="4.6" height="5.8" fill="#089981"/><rect x="663.2" y="405.4" width="1.3" height="23.0" fill="#089981"/><rect x="661.6" y="408.4" width="4.6" height="13.5" fill="#089981"/><rect x="668.4" y="407.2" width="1.3" height="17.3" fill="#f23645"/><rect x="666.7" y="415.4" width="4.6" height="7.7" fill="#f23645"/><rect x="673.5" y="410.7" width="1.3" height="15.9" fill="#089981"/><rect x="671.8" y="419.6" width="4.6" height="3.5" fill="#089981"/><rect x="678.4" y="403.7" width="1.3" height="28.2" fill="#089981"/><rect x="676.7" y="410.7" width="4.6" height="9.5" fill="#089981"/><rect x="683.5" y="380.1" width="1.3" height="34.8" fill="#089981"/><rect x="681.8" y="396.0" width="4.6" height="14.7" fill="#089981"/><rect x="688.4" y="390.1" width="1.3" height="29.9" fill="#f23645"/><rect x="686.7" y="396.0" width="4.6" height="22.4" fill="#f23645"/><rect x="695.2" y="413.7" width="1.3" height="18.2" fill="#f23645"/><rect x="693.6" y="417.2" width="4.6" height="7.7" fill="#f23645"/><rect x="700.1" y="407.2" width="1.3" height="19.8" fill="#089981"/><rect x="698.5" y="410.7" width="4.6" height="14.8" fill="#089981"/><rect x="705.2" y="383.6" width="1.3" height="31.3" fill="#089981"/><rect x="703.6" y="389.5" width="4.6" height="22.4" fill="#089981"/><rect x="710.1" y="363.6" width="1.3" height="27.9" fill="#089981"/><rect x="708.5" y="372.5" width="4.6" height="17.6" fill="#089981"/><rect x="715.1" y="368.3" width="1.3" height="11.7" fill="#f23645"/><rect x="713.5" y="372.5" width="4.6" height="5.9" fill="#f23645"/><rect x="720.2" y="361.0" width="1.3" height="19.0" fill="#089981"/><rect x="718.6" y="363.0" width="4.6" height="15.4" fill="#089981"/><rect x="727.0" y="358.3" width="1.3" height="11.8" fill="#f23645"/><rect x="725.3" y="363.6" width="4.6" height="5.4" fill="#f23645"/><rect x="732.1" y="348.3" width="1.3" height="23.0" fill="#089981"/><rect x="730.4" y="351.3" width="4.6" height="17.1" fill="#089981"/><rect x="737.1" y="343.6" width="1.3" height="16.5" fill="#089981"/><rect x="735.4" y="349.0" width="4.6" height="4.0" fill="#089981"/><rect x="742.1" y="334.8" width="1.3" height="21.8" fill="#089981"/><rect x="740.5" y="340.0" width="4.6" height="13.0" fill="#089981"/><rect x="747.1" y="340.0" width="1.3" height="26.6" fill="#f23645"/><rect x="745.4" y="341.8" width="4.6" height="15.4" fill="#f23645"/><rect x="752.1" y="333.6" width="1.3" height="24.9" fill="#089981"/><rect x="750.4" y="341.8" width="4.6" height="15.4" fill="#089981"/><rect x="758.9" y="323.6" width="1.3" height="20.9" fill="#089981"/><rect x="757.2" y="334.8" width="4.6" height="8.2" fill="#089981"/><rect x="763.9" y="333.0" width="1.3" height="17.1" fill="#f23645"/><rect x="762.2" y="334.8" width="4.6" height="8.2" fill="#f23645"/><rect x="768.9" y="323.6" width="1.3" height="20.9" fill="#089981"/><rect x="767.2" y="326.5" width="4.6" height="16.5" fill="#089981"/><rect x="773.9" y="321.8" width="1.3" height="17.7" fill="#f23645"/><rect x="772.2" y="327.0" width="4.6" height="2.5" fill="#f23645"/><rect x="778.9" y="312.0" width="1.3" height="21.0" fill="#089981"/><rect x="777.2" y="313.6" width="4.6" height="15.9" fill="#089981"/><rect x="784.1" y="293.0" width="1.3" height="23.5" fill="#089981"/><rect x="782.5" y="298.3" width="4.6" height="17.0" fill="#089981"/><rect x="790.6" y="284.7" width="1.3" height="15.8" fill="#089981"/><rect x="789.0" y="297.0" width="4.6" height="2.4" fill="#089981"/><rect x="795.6" y="286.5" width="1.3" height="21.5" fill="#f23645"/><rect x="794.0" y="296.5" width="4.6" height="10.0" fill="#f23645"/><rect x="801.0" y="300.0" width="1.3" height="14.5" fill="#f23645"/><rect x="799.3" y="305.3" width="4.6" height="7.7" fill="#f23645"/><rect x="805.6" y="306.5" width="1.3" height="23.0" fill="#f23645"/><rect x="804.0" y="311.8" width="4.6" height="14.7" fill="#f23645"/><rect x="811.0" y="310.0" width="1.3" height="18.0" fill="#089981"/><rect x="809.3" y="320.0" width="4.6" height="6.5" fill="#089981"/><rect x="815.9" y="306.5" width="1.3" height="19.5" fill="#f23645"/><rect x="814.2" y="320.0" width="4.6" height="4.8" fill="#f23645"/><rect x="821.0" y="321.0" width="1.3" height="17.0" fill="#f23645"/><rect x="819.3" y="322.4" width="4.6" height="14.1" fill="#f23645"/><rect x="827.5" y="331.8" width="1.3" height="31.8" fill="#f23645"/><rect x="825.8" y="336.5" width="4.6" height="16.5" fill="#f23645"/><rect x="832.5" y="343.6" width="1.3" height="21.2" fill="#089981"/><rect x="830.8" y="349.0" width="4.6" height="4.0" fill="#089981"/><rect x="837.6" y="341.8" width="1.3" height="20.2" fill="#f23645"/><rect x="836.0" y="349.0" width="4.6" height="11.7" fill="#f23645"/><rect x="842.8" y="356.0" width="1.3" height="28.8" fill="#f23645"/><rect x="841.1" y="357.8" width="4.6" height="22.3" fill="#f23645"/><rect x="847.9" y="365.4" width="1.3" height="17.6" fill="#089981"/><rect x="846.2" y="377.2" width="4.6" height="2.9" fill="#089981"/><rect x="852.8" y="358.3" width="1.3" height="19.7" fill="#089981"/><rect x="851.1" y="363.6" width="4.6" height="13.0" fill="#089981"/><rect x="859.2" y="341.0" width="1.3" height="25.0" fill="#089981"/><rect x="857.6" y="343.0" width="4.6" height="21.8" fill="#089981"/><rect x="864.6" y="326.0" width="1.3" height="20.0" fill="#089981"/><rect x="862.9" y="327.7" width="4.6" height="17.1" fill="#089981"/><rect x="869.6" y="314.8" width="1.3" height="23.5" fill="#089981"/><rect x="867.9" y="325.4" width="4.6" height="3.5" fill="#089981"/><rect x="874.6" y="318.3" width="1.3" height="28.3" fill="#f23645"/><rect x="872.9" y="325.4" width="4.6" height="18.2" fill="#f23645"/><rect x="879.6" y="334.8" width="1.3" height="15.3" fill="#f23645"/><rect x="878.0" y="336.5" width="4.6" height="4.2" fill="#f23645"/><rect x="884.6" y="331.8" width="1.3" height="14.8" fill="#089981"/><rect x="882.9" y="338.9" width="4.6" height="1.8" fill="#089981"/><rect x="891.1" y="324.8" width="1.3" height="17.7" fill="#f23645"/><rect x="889.4" y="339.0" width="4.6" height="2.3" fill="#f23645"/><rect x="896.4" y="311.2" width="1.3" height="31.3" fill="#089981"/><rect x="894.7" y="335.4" width="4.6" height="5.9" fill="#089981"/><rect x="901.4" y="320.0" width="1.3" height="24.8" fill="#f23645"/><rect x="899.7" y="336.0" width="4.6" height="4.7" fill="#f23645"/><rect x="906.4" y="330.0" width="1.3" height="20.1" fill="#f23645"/><rect x="904.7" y="335.4" width="4.6" height="7.6" fill="#f23645"/><rect x="911.4" y="332.0" width="1.3" height="19.6" fill="#089981"/><rect x="909.7" y="340.4" width="4.6" height="2.1" fill="#089981"/><rect x="916.6" y="321.5" width="1.3" height="21.5" fill="#089981"/><rect x="915.0" y="327.0" width="4.6" height="14.8" fill="#089981"/><rect x="923.2" y="313.1" width="1.3" height="20.3" fill="#089981"/><rect x="921.6" y="318.0" width="4.6" height="9.8" fill="#089981"/><rect x="928.4" y="311.7" width="1.3" height="19.3" fill="#f23645"/><rect x="926.7" y="318.0" width="4.6" height="11.9" fill="#f23645"/><rect x="933.4" y="313.1" width="1.3" height="16.9" fill="#089981"/><rect x="931.7" y="322.9" width="4.6" height="5.6" fill="#089981"/><rect x="938.4" y="321.5" width="1.3" height="16.8" fill="#f23645"/><rect x="936.7" y="322.9" width="4.6" height="7.0" fill="#f23645"/><rect x="943.6" y="316.6" width="1.3" height="24.4" fill="#f23645"/><rect x="941.9" y="328.5" width="4.6" height="11.2" fill="#f23645"/><rect x="948.5" y="335.5" width="1.3" height="71.4" fill="#f23645"/><rect x="946.8" y="338.3" width="4.6" height="44.1" fill="#f23645"/><rect x="955.1" y="363.5" width="1.3" height="19.5" fill="#089981"/><rect x="953.4" y="372.6" width="4.6" height="9.1" fill="#089981"/><rect x="960.1" y="365.6" width="1.3" height="34.4" fill="#089981"/><rect x="958.4" y="372.6" width="4.6" height="25.9" fill="#089981"/><rect x="965.2" y="365.6" width="1.3" height="35.0" fill="#f23645"/><rect x="963.6" y="371.2" width="4.6" height="25.2" fill="#f23645"/><rect x="970.1" y="370.0" width="1.3" height="36.9" fill="#089981"/><rect x="968.5" y="372.6" width="4.6" height="23.8" fill="#089981"/><rect x="975.5" y="371.2" width="1.3" height="23.8" fill="#f23645"/><rect x="973.8" y="372.6" width="4.6" height="16.8" fill="#f23645"/><rect x="980.4" y="385.9" width="1.3" height="39.1" fill="#f23645"/><rect x="978.7" y="389.4" width="4.6" height="31.5" fill="#f23645"/><rect x="987.0" y="416.0" width="1.3" height="38.0" fill="#f23645"/><rect x="985.3" y="422.3" width="4.6" height="30.1" fill="#f23645"/><rect x="991.9" y="439.0" width="1.3" height="16.8" fill="#f23645"/><rect x="990.2" y="451.0" width="4.6" height="1.5" fill="#f23645"/><rect x="996.8" y="427.9" width="1.3" height="26.1" fill="#089981"/><rect x="995.1" y="432.0" width="4.6" height="20.4" fill="#089981"/><rect x="1002.1" y="427.9" width="1.3" height="30.1" fill="#f23645"/><rect x="1000.4" y="432.0" width="4.6" height="24.6" fill="#f23645"/><rect x="1007.2" y="444.6" width="1.3" height="25.4" fill="#f23645"/><rect x="1005.6" y="455.8" width="4.6" height="12.6" fill="#f23645"/><rect x="1012.1" y="455.8" width="1.3" height="22.2" fill="#f23645"/><rect x="1010.5" y="467.7" width="4.6" height="9.1" fill="#f23645"/><rect x="1018.6" y="454.5" width="1.3" height="23.5" fill="#089981"/><rect x="1017.0" y="466.3" width="4.6" height="10.5" fill="#089981"/><rect x="1023.8" y="437.0" width="1.3" height="33.5" fill="#089981"/><rect x="1022.1" y="439.0" width="4.6" height="28.7" fill="#089981"/><rect x="1028.9" y="422.3" width="1.3" height="31.4" fill="#089981"/><rect x="1027.3" y="439.3" width="4.6" height="1.5" fill="#089981"/><rect x="1033.8" y="425.8" width="1.3" height="23.1" fill="#089981"/><rect x="1032.2" y="431.4" width="4.6" height="9.1" fill="#089981"/><rect x="1038.8" y="422.3" width="1.3" height="21.7" fill="#f23645"/><rect x="1037.1" y="432.8" width="4.6" height="2.2" fill="#f23645"/><rect x="1042.9" y="407.0" width="1.3" height="30.0" fill="#089981"/><rect x="1041.3" y="409.7" width="4.6" height="25.9" fill="#089981"/><rect x="141" y="228" width="195" height="57" fill="#171b26" fill-opacity="0.55"/><rect x="148" y="178.7" width="123.4" height="47.5" rx="7" fill="#131722" stroke="#e0323f" stroke-width="2"/><rect x="340.5" y="178.7" width="123.9" height="47.5" rx="7" fill="#131722" stroke="#2a5cf0" stroke-width="2"/></svg>
<div class="t" style="left:147.20px;top:130.34px;font-size:31.5px;line-height:31.5px;color:#d1d4dc;letter-spacing:1.684px;-webkit-text-stroke:0.55px #d1d4dc;">British</div>
<div class="t" style="left:254.30px;top:130.34px;font-size:31.5px;line-height:31.5px;color:#d1d4dc;letter-spacing:0.083px;-webkit-text-stroke:0.55px #d1d4dc;">Pound</div>
<div class="t" style="left:358.30px;top:130.34px;font-size:31.5px;line-height:31.5px;color:#d1d4dc;letter-spacing:2.700px;-webkit-text-stroke:0.55px #d1d4dc;">/</div>
<div class="t" style="left:382.20px;top:130.34px;font-size:31.5px;line-height:31.5px;color:#d1d4dc;letter-spacing:0.597px;-webkit-text-stroke:0.55px #d1d4dc;">U.S.</div>
<div class="t" style="left:454.70px;top:130.34px;font-size:31.5px;line-height:31.5px;color:#d1d4dc;letter-spacing:1.444px;-webkit-text-stroke:0.55px #d1d4dc;">Dollar</div>
<div class="t" style="left:570.50px;top:130.34px;font-size:31.5px;line-height:31.5px;color:#d1d4dc;letter-spacing:-4.500px;-webkit-text-stroke:0.55px #d1d4dc;">1</div>
<div class="t" style="left:587.20px;top:130.34px;font-size:31.5px;line-height:31.5px;color:#d1d4dc;letter-spacing:-2.500px;-webkit-text-stroke:0.55px #d1d4dc;">D</div>
<div class="t" style="left:632.20px;top:130.34px;font-size:31.5px;line-height:31.5px;color:#d1d4dc;letter-spacing:-1.967px;-webkit-text-stroke:0.55px #d1d4dc;">FXCM</div>
<div class="b" style="left:554.9px;top:143.6px;width:4.800000000000068px;height:4.800000000000011px;background:#d1d4dc;border-radius:3px;"></div>
<div class="b" style="left:618.2px;top:143.6px;width:4.7999999999999545px;height:4.800000000000011px;background:#d1d4dc;border-radius:3px;"></div>
<div class="t" style="left:163.80px;top:191.34px;font-size:25px;line-height:25px;color:#f23645;letter-spacing:0.668px;-webkit-text-stroke:0.3px currentColor;">1.2504</div>
<div class="t" style="left:246.30px;top:189.45px;font-size:22.5px;line-height:22.5px;color:#f23645;letter-spacing:-0.900px;-webkit-text-stroke:0.3px currentColor;">9</div>
<div class="t" style="left:289.40px;top:191.34px;font-size:25px;line-height:25px;color:#d1d4dc;letter-spacing:-0.425px;-webkit-text-stroke:0.3px currentColor;">0.8</div>
<div class="t" style="left:355.30px;top:191.34px;font-size:25px;line-height:25px;color:#2962ff;letter-spacing:0.908px;-webkit-text-stroke:0.3px currentColor;">1.2505</div>
<div class="t" style="left:438.00px;top:189.45px;font-size:22.5px;line-height:22.5px;color:#2962ff;letter-spacing:-2.000px;-webkit-text-stroke:0.3px currentColor;">7</div>
<div class="t" style="left:148.30px;top:250.29px;font-size:24.7px;line-height:24.7px;color:#d1d4dc;letter-spacing:1.633px;-webkit-text-stroke:0.3px currentColor;">Vol</div>
<div class="t" style="left:214.60px;top:250.29px;font-size:24.7px;line-height:24.7px;color:#2db3a2;letter-spacing:0.680px;opacity:0.92;">203.823K</div>
<div class="t" style="left:163.70px;top:1272.45px;font-size:15.3px;line-height:15.3px;color:#8a8a8a;letter-spacing:0.359px;">2023</div>
<div class="t" style="left:277.00px;top:1272.45px;font-size:15.3px;line-height:15.3px;color:#8a8a8a;letter-spacing:-0.176px;">Feb</div>
<div class="t" style="left:381.50px;top:1272.45px;font-size:15.3px;line-height:15.3px;color:#8a8a8a;letter-spacing:0.125px;">Mar</div>
<div class="t" style="left:486.70px;top:1272.45px;font-size:15.3px;line-height:15.3px;color:#8a8a8a;letter-spacing:-0.055px;">Apr</div>
<div class="t" style="left:590.30px;top:1272.45px;font-size:15.3px;line-height:15.3px;color:#8a8a8a;letter-spacing:-0.175px;">May</div>
<div class="t" style="left:695.80px;top:1272.45px;font-size:15.3px;line-height:15.3px;color:#8a8a8a;letter-spacing:0.022px;">Jun</div>
<div class="t" style="left:800.80px;top:1272.45px;font-size:15.3px;line-height:15.3px;color:#8a8a8a;letter-spacing:-0.228px;">Jul</div>
<div class="t" style="left:905.00px;top:1272.45px;font-size:15.3px;line-height:15.3px;color:#8a8a8a;letter-spacing:-0.355px;">Aug</div>
<div class="t" style="left:1009.50px;top:1272.45px;font-size:15.3px;line-height:15.3px;color:#8a8a8a;letter-spacing:-0.505px;">Sep</div>
<div class="b" style="left:142.6px;top:544.8px;width:368.4px;height:141.20000000000005px;background:#212121;border-radius:7px;box-shadow:0 0 10px rgba(0,0,0,0.3);"></div>
<div class="t" style="left:155.00px;top:563.90px;font-size:17.6px;line-height:17.6px;color:#fff;letter-spacing:0.321px;">Theme type</div>
<div class="b" style="left:154.5px;top:593px;width:80.69999999999999px;height:80.5px;background:#393939;border-radius:5px;"></div>
<svg class="b" style="left:179.5px;top:606px;" width="32" height="34" viewBox="179.5 606 32 34"><g transform="translate(0.0,0)"><rect x="186" y="621" width="1.2" height="13" fill="#0a7a56"/><rect x="183.3" y="623" width="6.5" height="8.5" rx="0.8" fill="#0a7a56"/><rect x="194.1" y="612" width="1.2" height="15" fill="#f44336"/><rect x="191.5" y="614.5" width="6.5" height="10" rx="0.8" fill="#f44336"/><rect x="202.6" y="610" width="1.2" height="21" fill="#0a7a56"/><rect x="200" y="613" width="6.5" height="15" rx="0.8" fill="#0a7a56"/><rect x="183.3" y="635.2" width="23.2" height="1.6" fill="#0a7a56"/></g></svg>
<div class="t" style="left:180.80px;top:647.91px;font-size:10.5px;line-height:10.5px;color:#fff;letter-spacing:-0.236px;">Green</div>
<div class="b" style="left:242.5px;top:593px;width:80.69999999999999px;height:80.5px;background:#393939;border-radius:5px;"></div>
<svg class="b" style="left:267.5px;top:606px;" width="32" height="34" viewBox="267.5 606 32 34"><g transform="translate(88.0,0)"><rect x="186" y="621" width="1.2" height="13" fill="#fff"/><rect x="183.3" y="623" width="6.5" height="8.5" rx="0.8" fill="#fff"/><rect x="194.1" y="612" width="1.2" height="15" fill="#000"/><rect x="191.5" y="614.5" width="6.5" height="10" rx="0.8" fill="#000"/><rect x="202.6" y="610" width="1.2" height="21" fill="#fff"/><rect x="200" y="613" width="6.5" height="15" rx="0.8" fill="#fff"/><rect x="183.3" y="635.2" width="23.2" height="1.6" fill="#111"/></g></svg>
<div class="t" style="left:270.00px;top:647.91px;font-size:10.5px;line-height:10.5px;color:#fff;letter-spacing:-0.231px;">Black</div>
<div class="b" style="left:330.3px;top:593px;width:80.69999999999999px;height:80.5px;background:#684200;border-radius:5px;border:2px solid #f5a623;box-sizing:border-box;"></div>
<svg class="b" style="left:355.3px;top:606px;" width="32" height="34" viewBox="355.3 606 32 34"><g transform="translate(175.8,0)"><rect x="186" y="621" width="1.2" height="13" fill="#f8b133"/><rect x="183.3" y="623" width="6.5" height="8.5" rx="0.8" fill="#f8b133"/><rect x="194.1" y="612" width="1.2" height="15" fill="#222"/><rect x="191.5" y="614.5" width="6.5" height="10" rx="0.8" fill="#222"/><rect x="202.6" y="610" width="1.2" height="21" fill="#f8b133"/><rect x="200" y="613" width="6.5" height="15" rx="0.8" fill="#f8b133"/><rect x="183.3" y="635.2" width="23.2" height="1.6" fill="#2a2a2a"/></g></svg>
<div class="t" style="left:356.00px;top:647.91px;font-size:10.5px;line-height:10.5px;color:#fff;letter-spacing:-0.177px;">Yellow</div>
<div class="b" style="left:418.2px;top:593px;width:80.69999999999999px;height:80.5px;background:#393939;border-radius:5px;"></div>
<svg class="b" style="left:443.2px;top:606px;" width="32" height="34" viewBox="443.2 606 32 34"><g transform="translate(263.7,0)"><rect x="186" y="621" width="1.2" height="13" fill="#fff"/><rect x="183.3" y="623" width="6.5" height="8.5" rx="0.8" fill="#fff"/><rect x="194.1" y="612" width="1.2" height="15" fill="#00b060"/><rect x="191.5" y="614.5" width="6.5" height="10" rx="0.8" fill="#00b060"/><rect x="202.6" y="610" width="1.2" height="21" fill="#fff"/><rect x="200" y="613" width="6.5" height="15" rx="0.8" fill="#fff"/><rect x="183.3" y="635.2" width="23.2" height="1.6" fill="#2a2a2a"/></g></svg>
<div class="t" style="left:445.00px;top:647.91px;font-size:10.5px;line-height:10.5px;color:#fff;letter-spacing:-0.050px;">White</div>
<div class="b" style="left:1056px;top:131px;width:53.5px;height:44px;background:#1e1e1e;border-radius:6px;"></div>
<svg class="b" style="left:1066px;top:136px;" width="34" height="34" viewBox="1066 136 34 34"><g stroke="#8a8a8a" stroke-width="1.6" fill="none" stroke-linecap="round" stroke-linejoin="round"><path d="M1094 141.2 L1085.4 149.8 M1085.2 142.6 V150.6 H1093"/><path d="M1071.4 163.9 L1080.2 155.1 M1072.4 154.9 H1080.4 V162.8"/></g></svg>
<div class="b" style="left:1244px;top:131px;width:126px;height:42px;background:#222222;border-radius:6px;"></div>
<div class="t" style="left:1273.70px;top:143.81px;font-size:18.3px;line-height:18.3px;color:#fff;letter-spacing:0.482px;">Opened</div>
<div class="b" style="left:1382.6px;top:131px;width:116.40000000000009px;height:42px;background:transparent;border-radius:6px;border:2px solid #f2b13e;box-sizing:border-box;"></div>
<div class="t" style="left:1412.00px;top:143.81px;font-size:18.3px;line-height:18.3px;color:#fff;letter-spacing:0.352px;">Closed</div>
<div class="b" style="left:1056px;top:198.5px;width:443px;height:38.0px;background:#212121;border-radius:6px;"></div>
<div class="t" style="left:1220.00px;top:209.83px;font-size:16.5px;line-height:16.5px;color:#fff;letter-spacing:0.144px;">2023.05.03</div>
<svg class="b" style="left:1317.7px;top:212px;" width="18" height="12" viewBox="1317.7 212 18 12"><path d="M1320.7 220.6 L1326.4 214.7 L1332.1 220.6 Z" fill="#8a8a8a"/></svg>
<div class="b" style="left:1056px;top:248.6px;width:443px;height:96.1px;background:#212121;border-radius:7px;"></div>
<svg class="b" style="left:1083px;top:284.1px;" width="26" height="26" viewBox="1083 284.1 26 26"><rect x="1083" y="284.1" width="25.6" height="25.8" rx="6.3" fill="#00b066"/><path d="M1095.8 304.6 V290.6 M1090.5 295.5 L1095.8 290.20000000000005 L1101.1 295.5" stroke="#0f0f0f" stroke-width="1.9" fill="none" stroke-linecap="round" stroke-linejoin="round"/></svg>
<div class="t" style="left:1123.00px;top:273.66px;font-size:18px;line-height:18px;color:#fff;letter-spacing:-0.767px;">ETH/BTC</div>
<div class="t" style="left:1124.00px;top:303.66px;font-size:18px;line-height:18px;color:#fff;letter-spacing:0.029px;">$12.00 (92%)</div>
<div class="t" style="left:1272.40px;top:303.66px;font-size:18px;line-height:18px;color:#fff;letter-spacing:-0.922px;">$11.55</div>
<div class="t" style="left:1380.50px;top:273.66px;font-size:18px;line-height:18px;color:#fff;letter-spacing:-1.049px;">11:49</div>
<div class="t" style="left:1363.80px;top:303.66px;font-size:18px;line-height:18px;color:#fff;letter-spacing:0.231px;">$23.55</div>
<svg class="b" style="left:1442px;top:289px;" width="20" height="14" viewBox="1442 289 20 14"><path d="M1445.5 293.4 L1457.3 293.4 L1451.4 299.8 Z" fill="#8a8a8a"/></svg>
<div class="b" style="left:1056px;top:357.7px;width:443px;height:306.09999999999997px;background:#212121;border-radius:7px;"></div>
<svg class="b" style="left:1083px;top:393.2px;" width="26" height="26" viewBox="1083 393.2 26 26"><rect x="1083" y="393.2" width="25.6" height="25.8" rx="6.3" fill="#fe3b30"/><path d="M1095.8 399.2 V411.7 M1091.0 407.2 L1095.8 412.0 L1100.6 407.2" stroke="#fff" stroke-width="1.9" fill="none" stroke-linecap="round" stroke-linejoin="round"/></svg>
<div class="t" style="left:1123.00px;top:382.76px;font-size:18px;line-height:18px;color:#fff;letter-spacing:-0.767px;">ETH/BTC</div>
<div class="t" style="left:1124.00px;top:412.76px;font-size:18px;line-height:18px;color:#fff;letter-spacing:0.029px;">$12.00 (92%)</div>
<div class="t" style="left:1274.40px;top:412.76px;font-size:18px;line-height:18px;color:#fff;letter-spacing:-1.022px;">$11.55</div>
<div class="t" style="left:1380.00px;top:382.76px;font-size:18px;line-height:18px;color:#fff;letter-spacing:-1.758px;">12:12</div>
<div class="t" style="left:1368.00px;top:412.76px;font-size:18px;line-height:18px;color:#fff;letter-spacing:-0.942px;">$11.55</div>
<svg class="b" style="left:1443px;top:398px;" width="20" height="14" viewBox="1443 398 20 14"><path d="M1445.6 408.0 L1451.6 402.0 L1457.6 408.0 Z" fill="#8a8a8a"/></svg>
<div class="b" style="left:1056px;top:676.5px;width:443px;height:95.29999999999995px;background:#212121;border-radius:7px;"></div>
<svg class="b" style="left:1083px;top:712.0px;" width="26" height="26" viewBox="1083 712.0 26 26"><rect x="1083" y="712.0" width="25.6" height="25.8" rx="6.3" fill="#00b066"/><path d="M1095.8 732.5 V718.5 M1090.5 723.4 L1095.8 718.1 L1101.1 723.4" stroke="#0f0f0f" stroke-width="1.9" fill="none" stroke-linecap="round" stroke-linejoin="round"/></svg>
<div class="t" style="left:1123.00px;top:701.56px;font-size:18px;line-height:18px;color:#fff;letter-spacing:-0.767px;">ETH/BTC</div>
<div class="t" style="left:1124.00px;top:731.56px;font-size:18px;line-height:18px;color:#fff;letter-spacing:0.029px;">$12.00 (92%)</div>
<div class="t" style="left:1272.30px;top:731.56px;font-size:18px;line-height:18px;color:#fff;letter-spacing:-1.002px;">$11.55</div>
<div class="t" style="left:1380.70px;top:701.56px;font-size:18px;line-height:18px;color:#fff;letter-spacing:-1.149px;">11:49</div>
<div class="t" style="left:1363.80px;top:731.56px;font-size:18px;line-height:18px;color:#fff;letter-spacing:0.231px;">$23.55</div>
<svg class="b" style="left:1442px;top:716px;" width="20" height="14" viewBox="1442 716 20 14"><path d="M1445.5 721.3 L1457.3 721.3 L1451.4 727.7 Z" fill="#8a8a8a"/></svg>
<div class="b" style="left:1056px;top:784.6px;width:443px;height:95.60000000000002px;background:#212121;border-radius:7px;"></div>
<svg class="b" style="left:1083px;top:820.1px;" width="26" height="26" viewBox="1083 820.1 26 26"><rect x="1083" y="820.1" width="25.6" height="25.8" rx="6.3" fill="#00b066"/><path d="M1095.8 840.6 V826.6 M1090.5 831.5 L1095.8 826.2 L1101.1 831.5" stroke="#0f0f0f" stroke-width="1.9" fill="none" stroke-linecap="round" stroke-linejoin="round"/></svg>
<div class="t" style="left:1123.00px;top:809.66px;font-size:18px;line-height:18px;color:#fff;letter-spacing:-0.767px;">ETH/BTC</div>
<div class="t" style="left:1124.00px;top:839.66px;font-size:18px;line-height:18px;color:#fff;letter-spacing:0.029px;">$12.00 (92%)</div>
<div class="t" style="left:1272.30px;top:839.66px;font-size:18px;line-height:18px;color:#fff;letter-spacing:-1.002px;">$11.55</div>
<div class="t" style="left:1380.70px;top:809.66px;font-size:18px;line-height:18px;color:#fff;letter-spacing:-1.149px;">11:49</div>
<div class="t" style="left:1363.80px;top:839.66px;font-size:18px;line-height:18px;color:#fff;letter-spacing:0.231px;">$23.55</div>
<svg class="b" style="left:1442px;top:825px;" width="20" height="14" viewBox="1442 825 20 14"><path d="M1445.5 829.4 L1457.3 829.4 L1451.4 835.8 Z" fill="#8a8a8a"/></svg>
<div class="b" style="left:1056px;top:905.2px;width:443px;height:37.799999999999955px;background:#212121;border-radius:6px;"></div>
<div class="t" style="left:1220.70px;top:916.83px;font-size:16.5px;line-height:16.5px;color:#fff;letter-spacing:-0.012px;">2023.05.02</div>
<svg class="b" style="left:1316.6px;top:918px;" width="18" height="12" viewBox="1316.6 918 18 12"><path d="M1319.6 927.2 L1325.3 921.3 L1331.0 927.2 Z" fill="#8a8a8a"/></svg>
<div class="b" style="left:1056px;top:955.6px;width:443px;height:95.69999999999993px;background:#212121;border-radius:7px;"></div>
<svg class="b" style="left:1083px;top:991.1px;" width="26" height="26" viewBox="1083 991.1 26 26"><rect x="1083" y="991.1" width="25.6" height="25.8" rx="6.3" fill="#fe3b30"/><path d="M1095.8 997.1 V1009.6 M1091.0 1005.1 L1095.8 1009.9 L1100.6 1005.1" stroke="#fff" stroke-width="1.9" fill="none" stroke-linecap="round" stroke-linejoin="round"/></svg>
<div class="t" style="left:1123.00px;top:980.66px;font-size:18px;line-height:18px;color:#fff;letter-spacing:-0.767px;">ETH/BTC</div>
<div class="t" style="left:1124.00px;top:1010.66px;font-size:18px;line-height:18px;color:#fff;letter-spacing:0.029px;">$12.00 (92%)</div>
<div class="t" style="left:1274.40px;top:1010.66px;font-size:18px;line-height:18px;color:#fff;letter-spacing:-0.942px;">$11.55</div>
<div class="t" style="left:1379.00px;top:980.66px;font-size:18px;line-height:18px;color:#fff;letter-spacing:-1.508px;">12:12</div>
<div class="t" style="left:1368.40px;top:1010.66px;font-size:18px;line-height:18px;color:#fff;letter-spacing:-1.022px;">$11.55</div>
<svg class="b" style="left:1442px;top:996px;" width="20" height="14" viewBox="1442 996 20 14"><path d="M1445.5 1000.4 L1457.3 1000.4 L1451.4 1006.8 Z" fill="#8a8a8a"/></svg>
<div class="b" style="left:1056px;top:1064px;width:443px;height:95.29999999999995px;background:#212121;border-radius:7px;"></div>
<svg class="b" style="left:1083px;top:1099.5px;" width="26" height="26" viewBox="1083 1099.5 26 26"><rect x="1083" y="1099.5" width="25.6" height="25.8" rx="6.3" fill="#fe3b30"/><path d="M1095.8 1105.5 V1118.0 M1091.0 1113.5 L1095.8 1118.3 L1100.6 1113.5" stroke="#fff" stroke-width="1.9" fill="none" stroke-linecap="round" stroke-linejoin="round"/></svg>
<div class="t" style="left:1123.00px;top:1089.06px;font-size:18px;line-height:18px;color:#fff;letter-spacing:-0.767px;">ETH/BTC</div>
<div class="t" style="left:1124.00px;top:1119.06px;font-size:18px;line-height:18px;color:#fff;letter-spacing:0.029px;">$12.00 (92%)</div>
<div class="t" style="left:1272.40px;top:1119.06px;font-size:18px;line-height:18px;color:#fff;letter-spacing:-0.942px;">$11.55</div>
<div class="t" style="left:1375.80px;top:1089.06px;font-size:18px;line-height:18px;color:#fff;letter-spacing:-1.633px;">12:12</div>
<div class="t" style="left:1364.80px;top:1119.06px;font-size:18px;line-height:18px;color:#fff;letter-spacing:-0.962px;">$11.55</div>
<svg class="b" style="left:1437px;top:1104px;" width="20" height="14" viewBox="1437 1104 20 14"><path d="M1440.3 1108.8 L1452.1 1108.8 L1446.2 1115.2 Z" fill="#8a8a8a"/></svg>
<div class="b" style="left:1056px;top:1172.4px;width:443px;height:95.69999999999982px;background:#212121;border-radius:7px;"></div>
<svg class="b" style="left:1083px;top:1207.9px;" width="26" height="26" viewBox="1083 1207.9 26 26"><rect x="1083" y="1207.9" width="25.6" height="25.8" rx="6.3" fill="#00b066"/><path d="M1095.8 1228.4 V1214.4 M1090.5 1219.3000000000002 L1095.8 1214.0 L1101.1 1219.3000000000002" stroke="#0f0f0f" stroke-width="1.9" fill="none" stroke-linecap="round" stroke-linejoin="round"/></svg>
<div class="t" style="left:1123.00px;top:1197.46px;font-size:18px;line-height:18px;color:#fff;letter-spacing:-0.767px;">ETH/BTC</div>
<div class="t" style="left:1124.00px;top:1227.46px;font-size:18px;line-height:18px;color:#fff;letter-spacing:0.029px;">$12.00 (92%)</div>
<div class="t" style="left:1272.40px;top:1227.46px;font-size:18px;line-height:18px;color:#fff;letter-spacing:-1.062px;">$11.55</div>
<div class="t" style="left:1380.60px;top:1197.46px;font-size:18px;line-height:18px;color:#fff;letter-spacing:-1.249px;">11:49</div>
<div class="t" style="left:1363.40px;top:1227.46px;font-size:18px;line-height:18px;color:#fff;letter-spacing:0.311px;">$23.55</div>
<svg class="b" style="left:1442px;top:1212px;" width="20" height="14" viewBox="1442 1212 20 14"><path d="M1445.5 1217.2 L1457.3 1217.2 L1451.4 1223.6 Z" fill="#8a8a8a"/></svg>
<div class="t" style="left:1081.20px;top:474.49px;font-size:17.5px;line-height:17.5px;color:#9a9a9a;letter-spacing:0.463px;">Open time:</div>
<div class="t" style="left:1080.00px;top:503.89px;font-size:17.5px;line-height:17.5px;color:#fff;letter-spacing:-0.741px;">12:11:56.156</div>
<div class="t" style="left:1285.60px;top:474.49px;font-size:17.5px;line-height:17.5px;color:#9a9a9a;letter-spacing:0.401px;">Closing time:</div>
<div class="t" style="left:1284.60px;top:503.89px;font-size:17.5px;line-height:17.5px;color:#fff;letter-spacing:-0.277px;">12:12:01.339</div>
<div class="t" style="left:1081.00px;top:557.49px;font-size:17.5px;line-height:17.5px;color:#9a9a9a;letter-spacing:0.333px;">Your forecast:</div>
<div class="t" style="left:1204.90px;top:557.49px;font-size:17.5px;line-height:17.5px;color:#fff;letter-spacing:1.030px;">Down</div>
<div class="t" style="left:1285.60px;top:557.49px;font-size:17.5px;line-height:17.5px;color:#9a9a9a;letter-spacing:0.450px;">Open price:</div>
<div class="t" style="left:1392.70px;top:557.49px;font-size:17.5px;line-height:17.5px;color:#fff;letter-spacing:-0.238px;">155.102</div>
<div class="t" style="left:1080.00px;top:590.79px;font-size:17.5px;line-height:17.5px;color:#9a9a9a;letter-spacing:0.503px;">Payout:</div>
<div class="t" style="left:1155.30px;top:590.79px;font-size:17.5px;line-height:17.5px;color:#f0463c;letter-spacing:0.660px;">$3.84</div>
<div class="t" style="left:1285.60px;top:590.79px;font-size:17.5px;line-height:17.5px;color:#9a9a9a;letter-spacing:0.391px;">Current price</div>
<div class="t" style="left:1403.70px;top:590.79px;font-size:17.5px;line-height:17.5px;color:#fff;letter-spacing:-0.288px;">155.103</div>
<div class="t" style="left:1080.00px;top:622.69px;font-size:17.5px;line-height:17.5px;color:#9a9a9a;letter-spacing:0.603px;">Profit</div>
<div class="t" style="left:1138.00px;top:622.69px;font-size:17.5px;line-height:17.5px;color:#f0463c;letter-spacing:0.282px;">-$1.84</div>
<div class="t" style="left:1284.60px;top:622.69px;font-size:17.5px;line-height:17.5px;color:#9a9a9a;letter-spacing:0.776px;">Difference:</div>
<div class="t" style="left:1390.40px;top:622.69px;font-size:17.5px;line-height:17.5px;color:#fff;letter-spacing:-0.121px;">-1 Point</div>
<div class="b" style="left:1511px;top:109px;width:241px;height:1206px;background:#202020;border-radius:9px;"></div>
<div class="b" style="left:1533px;top:131px;width:197.5px;height:261px;background:#262626;border-radius:6px;"></div>
<div class="b" style="left:1533px;top:131px;width:197.5px;height:86.5px;background:#262626;border-radius:6px;border:2px solid #e9a93a;box-sizing:border-box;"></div>
<div class="t" style="left:1547.40px;top:150.67px;font-size:12.2px;line-height:12.2px;color:#7a7a7a;letter-spacing:-0.084px;">Time</div>
<svg class="b" style="left:1579px;top:148px;" width="16" height="16" viewBox="1579 148 16 16"><circle cx="1587" cy="156.4" r="6.1" fill="none" stroke="#7a7a7a" stroke-width="1.15"/><text x="1587" y="159.70000000000002" font-family="Liberation Sans" font-size="9.5" fill="#7a7a7a" text-anchor="middle">?</text></svg>
<div class="t" style="left:1547.40px;top:180.39px;font-size:17.5px;line-height:17.5px;color:#fff;letter-spacing:1.173px;">00:01:00</div>
<svg class="b" style="left:1690px;top:177px;" width="26" height="26" viewBox="1690 177 26 26"><circle cx="1702.7" cy="190" r="8.8" fill="none" stroke="#fff" stroke-width="1.7"/><path d="M1701.8 184.5 V190.5 L1705.6 194" fill="none" stroke="#fff" stroke-width="1.7" stroke-linecap="round" stroke-linejoin="round"/></svg>
<div class="b" style="left:1547.4px;top:241.8px;width:50.5px;height:39.39999999999998px;background:#363636;border-radius:5px;border:2px solid #e9a93a;box-sizing:border-box;"></div>
<div class="t" style="left:1560.90px;top:253.09px;font-size:17.5px;line-height:17.5px;color:#fff;letter-spacing:-1.900px;">1</div>
<div class="t" style="left:1569.20px;top:253.09px;font-size:17.5px;line-height:17.5px;color:#fff;letter-spacing:-0.400px;">m</div>
<div class="b" style="left:1606.4px;top:241.8px;width:50.5px;height:39.39999999999998px;background:#363636;border-radius:5px;"></div>
<div class="t" style="left:1619.00px;top:253.09px;font-size:17.5px;line-height:17.5px;color:#fff;letter-spacing:0.667px;">3m</div>
<div class="b" style="left:1665.3px;top:241.8px;width:50.5px;height:39.39999999999998px;background:#363636;border-radius:5px;"></div>
<div class="t" style="left:1677.70px;top:253.09px;font-size:17.5px;line-height:17.5px;color:#fff;letter-spacing:1.267px;">5m</div>
<div class="b" style="left:1547.4px;top:290px;width:50.5px;height:39.39999999999998px;background:#363636;border-radius:5px;"></div>
<div class="t" style="left:1554.40px;top:300.89px;font-size:17.5px;line-height:17.5px;color:#fff;letter-spacing:-2.400px;">1</div>
<div class="t" style="left:1563.20px;top:300.89px;font-size:17.5px;line-height:17.5px;color:#fff;letter-spacing:1.667px;">0m</div>
<div class="b" style="left:1606.4px;top:290px;width:50.5px;height:39.39999999999998px;background:#363636;border-radius:5px;"></div>
<div class="t" style="left:1614.80px;top:300.89px;font-size:17.5px;line-height:17.5px;color:#fff;letter-spacing:-2.600px;">1</div>
<div class="t" style="left:1623.40px;top:300.89px;font-size:17.5px;line-height:17.5px;color:#fff;letter-spacing:0.167px;">5m</div>
<div class="b" style="left:1665.3px;top:290px;width:50.5px;height:39.39999999999998px;background:#363636;border-radius:5px;"></div>
<div class="t" style="left:1671.80px;top:300.89px;font-size:17.5px;line-height:17.5px;color:#fff;letter-spacing:1.717px;">30m</div>
<div class="b" style="left:1547.4px;top:338px;width:50.5px;height:39.39999999999998px;background:#363636;border-radius:5px;"></div>
<div class="t" style="left:1563.70px;top:349.79px;font-size:17.5px;line-height:17.5px;color:#fff;letter-spacing:-2.500px;">1</div>
<div class="t" style="left:1571.30px;top:349.79px;font-size:17.5px;line-height:17.5px;color:#fff;letter-spacing:-0.300px;">h</div>
<div class="b" style="left:1606.4px;top:338px;width:50.5px;height:39.39999999999998px;background:#363636;border-radius:5px;"></div>
<div class="t" style="left:1621.90px;top:349.79px;font-size:17.5px;line-height:17.5px;color:#fff;letter-spacing:0.767px;">4h</div>
<div class="b" style="left:1533px;top:406.4px;width:197.5px;height:86.80000000000001px;background:#292929;border-radius:6px;"></div>
<div class="t" style="left:1547.20px;top:426.47px;font-size:12.2px;line-height:12.2px;color:#7a7a7a;letter-spacing:0.477px;">Amount</div>
<svg class="b" style="left:1597px;top:424px;" width="16" height="16" viewBox="1597 424 16 16"><circle cx="1605" cy="432" r="6.1" fill="none" stroke="#7a7a7a" stroke-width="1.15"/><text x="1605" y="435.3" font-family="Liberation Sans" font-size="9.5" fill="#7a7a7a" text-anchor="middle">?</text></svg>
<div class="t" style="left:1547.20px;top:455.76px;font-size:18px;line-height:18px;color:#fff;letter-spacing:1.723px;">$500</div>
<div class="b" style="left:1533px;top:508px;width:197.5px;height:176.5px;background:#1e1e1e;border-radius:6px;border:1px solid #3a3a3a;box-sizing:border-box;"></div>
<div class="t" style="left:1607.90px;top:527.65px;font-size:14px;line-height:14px;color:#fff;letter-spacing:0.261px;">Payout</div>
<svg class="b" style="left:1701px;top:522px;" width="16" height="16" viewBox="1701 522 16 16"><circle cx="1708.7" cy="529.5" r="6.1" fill="none" stroke="#7a7a7a" stroke-width="1.15"/><text x="1708.7" y="532.8" font-family="Liberation Sans" font-size="9.5" fill="#7a7a7a" text-anchor="middle">?</text></svg>
<div class="t" style="left:1589.00px;top:557.50px;font-size:31.3px;line-height:31.3px;color:#fff;letter-spacing:0.870px;font-weight:700;">+92%</div>
<div class="t" style="left:1602.70px;top:604.65px;font-size:14px;line-height:14px;color:#6a6a6a;letter-spacing:0.930px;">$960.00</div>
<div class="t" style="left:1612.40px;top:628.85px;font-size:14px;line-height:14px;color:#fff;letter-spacing:0.503px;">Profit</div>
<div class="t" style="left:1598.60px;top:652.15px;font-size:14px;line-height:14px;color:#6a6a6a;letter-spacing:0.801px;">+$460.00</div>
<div class="b" style="left:1533px;top:699px;width:197.79999999999995px;height:87px;background:#02ad63;border-radius:6px;"></div>
<div class="t" style="left:1551.60px;top:734.07px;font-size:20px;line-height:20px;color:#fff;letter-spacing:1.357px;-webkit-text-stroke:0.6px #fff;">Up</div>
<div class="b" style="left:1661.8px;top:716.7px;width:50.5px;height:50.799999999999955px;background:#009d58;border-radius:9.5px;border:1px solid rgba(255,255,255,0.16);box-sizing:border-box;"></div>
<div class="b" style="left:1674px;top:729.4px;width:26px;height:25.899999999999977px;background:#3bb07c;border-radius:6px;"></div>
<svg class="b" style="left:1676px;top:729px;" width="22" height="26" viewBox="1676 729 22 26"><path d="M1687.15 750.2 V734.6 M1681.5 741.2 L1687.15 733.8000000000001 L1692.8000000000002 741.2" stroke="#fff" stroke-width="1.8" fill="none" stroke-linecap="round" stroke-linejoin="round"/></svg>
<div class="b" style="left:1533px;top:799px;width:197.79999999999995px;height:86.60000000000002px;background:#fe3d31;border-radius:6px;"></div>
<div class="t" style="left:1551.60px;top:833.87px;font-size:20px;line-height:20px;color:#fff;letter-spacing:1.563px;-webkit-text-stroke:0.6px #fff;">Down</div>
<div class="b" style="left:1661.8px;top:816.7px;width:50.5px;height:50.799999999999955px;background:#e0362c;border-radius:9.5px;border:1px solid rgba(255,255,255,0.16);box-sizing:border-box;"></div>
<div class="b" style="left:1674px;top:829.4px;width:26px;height:25.899999999999977px;background:#e86060;border-radius:6px;"></div>
<svg class="b" style="left:1676px;top:829px;" width="22" height="26" viewBox="1676 829 22 26"><path d="M1687.15 834.2 V849.8000000000001 M1681.25 844.5 L1687.15 850.6 L1693.0500000000002 844.5" stroke="#fff" stroke-width="1.8" fill="none" stroke-linecap="round" stroke-linejoin="round"/></svg>
</body></html>
